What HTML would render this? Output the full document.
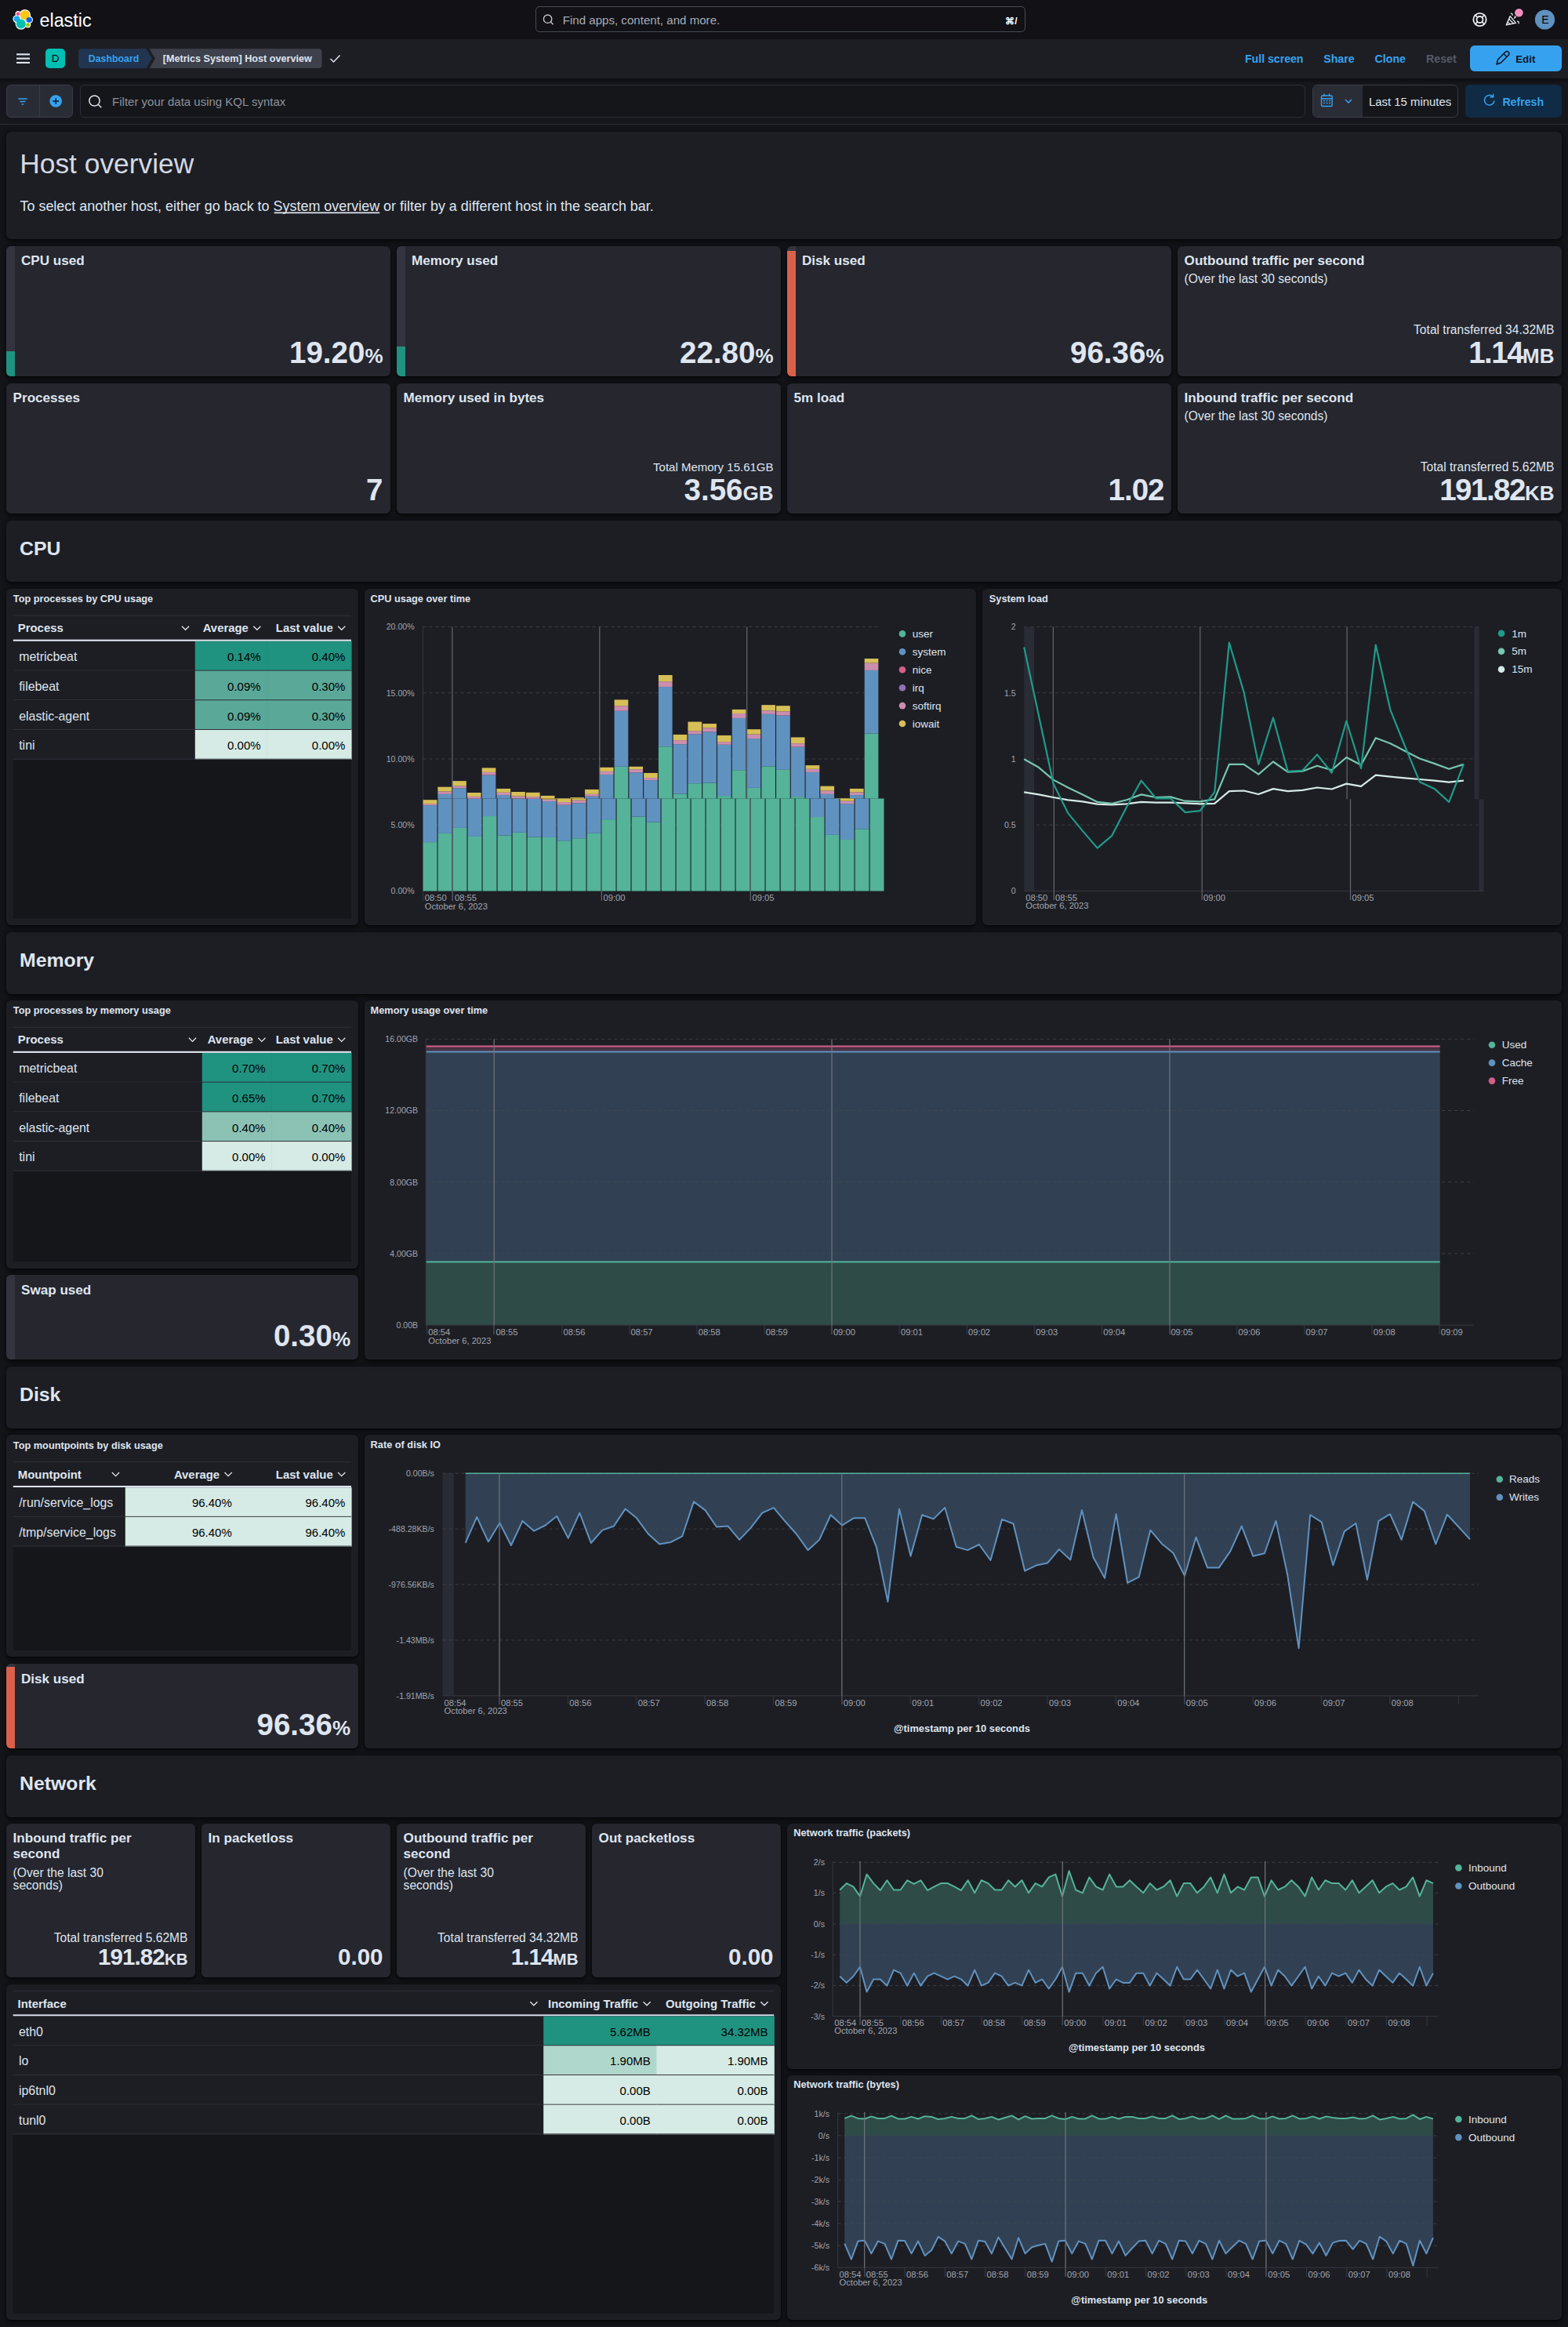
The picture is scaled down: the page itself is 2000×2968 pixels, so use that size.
<!DOCTYPE html><html><head><meta charset="utf-8"><title>[Metrics System] Host overview - Elastic</title><style>
html,body{margin:0;padding:0;background:#141519;}
body{width:2000px;height:2968px;position:relative;overflow:hidden;font-family:"Liberation Sans",sans-serif;}
.a{position:absolute;}
.p{position:absolute;border-radius:6px;box-shadow:0 0.7px 1.4px rgba(0,0,0,.45),0 1.9px 4px rgba(0,0,0,.35),0 4.5px 10px rgba(0,0,0,.3);}
svg{position:absolute;left:0;top:0;}

</style></head><body>
<div class="a" style="left:0.00px;top:0.00px;width:2000.00px;height:49.50px;background:#111116;"></div>
<div class="a" style="left:0.00px;top:49.50px;width:2000.00px;height:50.00px;background:#1d1e24;"></div>
<div class="a" style="left:0.00px;top:99.50px;width:2000.00px;height:7.00px;background:linear-gradient(#0c0d10,#16171c);"></div>
<div class="a" style="left:0.00px;top:106.50px;width:2000.00px;height:52.00px;background:#16171c;"></div>
<div class="a" style="left:0.00px;top:158.30px;width:2000.00px;height:1.00px;background:#2c2f37;"></div>
<div class="a" style="left:0.00px;top:159.30px;width:2000.00px;height:2808.70px;background:#141519;"></div>
<div class="a" style="left:683.4px;top:8.2px;width:624.5px;height:33px;box-sizing:border-box;border:1px solid #4a4c55;border-radius:5px;background:#111116;"></div>
<div class="a" style="left:58.1px;top:62.3px;width:25.2px;height:24.7px;background:#00bfb3;border-radius:5px;"></div>
<div class="a" style="left:1875.1px;top:58.1px;width:116.5px;height:32.5px;background:#36a2ef;border-radius:6px;"></div>
<div class="a" style="left:8.4px;top:108px;width:84.2px;height:41.6px;box-sizing:border-box;border:1px solid #3a3c45;border-radius:6px;background:#2a2c35;"></div>
<div class="a" style="left:50.20px;top:108.00px;width:1.00px;height:41.60px;background:#3a3c45;"></div>
<div class="a" style="left:101.6px;top:108px;width:1563.6px;height:41.6px;box-sizing:border-box;border:1px solid #2b2d35;border-radius:6px;background:#15161a;"></div>
<div class="a" style="left:1674.2px;top:108px;width:186.1px;height:41.6px;box-sizing:border-box;border:1px solid #3a3c45;border-radius:6px;background:#15161a;overflow:hidden;"><div style="position:absolute;left:0;top:0;width:63px;height:100%;background:#2b2d36;"></div></div>
<div class="a" style="left:1868.7px;top:108px;width:122.9px;height:41.6px;background:#0f2b45;border-radius:6px;"></div>
<div class="p" style="left:8.00px;top:167.80px;width:1984.00px;height:137.15px;background:#1d1e24;"></div>
<div class="p" style="left:8.00px;top:313.65px;width:490.00px;height:166.32px;background:#25262e;"></div>
<div class="a" style="left:8.00px;top:313.65px;width:11px;height:166.32px;background:#33343f;border-radius:6px 0 0 6px;overflow:hidden;"><div style="position:absolute;left:0;bottom:0;width:11px;height:31.93px;background:#209280;"></div></div>
<div class="p" style="left:506.00px;top:313.65px;width:490.00px;height:166.32px;background:#25262e;"></div>
<div class="a" style="left:506.00px;top:313.65px;width:11px;height:166.32px;background:#33343f;border-radius:6px 0 0 6px;overflow:hidden;"><div style="position:absolute;left:0;bottom:0;width:11px;height:37.92px;background:#209280;"></div></div>
<div class="p" style="left:1004.00px;top:313.65px;width:490.00px;height:166.32px;background:#25262e;"></div>
<div class="a" style="left:1004.00px;top:313.65px;width:11px;height:166.32px;background:#33343f;border-radius:6px 0 0 6px;overflow:hidden;"><div style="position:absolute;left:0;bottom:0;width:11px;height:160.27px;background:#d9614a;"></div></div>
<div class="p" style="left:1502.00px;top:313.65px;width:490.00px;height:166.32px;background:#25262e;"></div>
<div class="p" style="left:8.00px;top:488.67px;width:490.00px;height:166.32px;background:#25262e;"></div>
<div class="p" style="left:506.00px;top:488.67px;width:490.00px;height:166.32px;background:#25262e;"></div>
<div class="p" style="left:1004.00px;top:488.67px;width:490.00px;height:166.32px;background:#25262e;"></div>
<div class="p" style="left:1502.00px;top:488.67px;width:490.00px;height:166.32px;background:#25262e;"></div>
<div class="p" style="left:8.00px;top:663.69px;width:1984.00px;height:78.81px;background:#1d1e24;"></div>
<div class="p" style="left:8.00px;top:1188.75px;width:1984.00px;height:78.81px;background:#1d1e24;"></div>
<div class="p" style="left:8.00px;top:1742.98px;width:1984.00px;height:78.81px;background:#1d1e24;"></div>
<div class="p" style="left:8.00px;top:2238.87px;width:1984.00px;height:78.81px;background:#1d1e24;"></div>
<div class="p" style="left:8.00px;top:751.20px;width:448.50px;height:428.85px;background:#1d1e24;"></div>
<div class="p" style="left:8.00px;top:1276.26px;width:448.50px;height:341.34px;background:#1d1e24;"></div>
<div class="p" style="left:8.00px;top:1830.49px;width:448.50px;height:283.00px;background:#1d1e24;"></div>
<div class="p" style="left:8.00px;top:2530.57px;width:988.00px;height:428.85px;background:#1d1e24;"></div>
<div class="p" style="left:8.00px;top:1626.30px;width:448.50px;height:107.98px;background:#25262e;"></div>
<div class="a" style="left:8.00px;top:1626.30px;width:11px;height:107.98px;background:#33343f;border-radius:6px 0 0 6px;overflow:hidden;"><div style="position:absolute;left:0;bottom:0;width:11px;height:0.32px;background:#209280;"></div></div>
<div class="p" style="left:8.00px;top:2122.19px;width:448.50px;height:107.98px;background:#25262e;"></div>
<div class="a" style="left:8.00px;top:2122.19px;width:11px;height:107.98px;background:#33343f;border-radius:6px 0 0 6px;overflow:hidden;"><div style="position:absolute;left:0;bottom:0;width:11px;height:104.05px;background:#d9614a;"></div></div>
<div class="p" style="left:8.00px;top:2326.38px;width:241.00px;height:195.49px;background:#25262e;"></div>
<div class="p" style="left:257.00px;top:2326.38px;width:241.00px;height:195.49px;background:#25262e;"></div>
<div class="p" style="left:506.00px;top:2326.38px;width:241.00px;height:195.49px;background:#25262e;"></div>
<div class="p" style="left:755.00px;top:2326.38px;width:241.00px;height:195.49px;background:#25262e;"></div>
<div class="p" style="left:464.50px;top:751.20px;width:780.50px;height:428.85px;background:#1d1e24;"></div>
<div class="p" style="left:1253.00px;top:751.20px;width:739.00px;height:428.85px;background:#1d1e24;"></div>
<div class="p" style="left:464.50px;top:1276.26px;width:1527.50px;height:458.02px;background:#1d1e24;"></div>
<div class="p" style="left:464.50px;top:1830.49px;width:1527.50px;height:399.68px;background:#1d1e24;"></div>
<div class="p" style="left:1004.00px;top:2326.38px;width:988.00px;height:312.17px;background:#1d1e24;"></div>
<div class="p" style="left:1004.00px;top:2647.25px;width:988.00px;height:312.17px;background:#1d1e24;"></div>
<svg width="2000" height="2968" viewBox="0 0 2000 2968" font-family="Liberation Sans, sans-serif">
<g>
<circle cx="31.8" cy="19.2" r="7.3" fill="#fff"/><circle cx="23" cy="17.6" r="3.5" fill="#fff"/><circle cx="21.5" cy="24.1" r="5.2" fill="#fff"/>
<circle cx="37.2" cy="25.3" r="4.8" fill="#fff"/><circle cx="26.8" cy="30.6" r="7.2" fill="#fff"/><circle cx="35.6" cy="31.8" r="3.7" fill="#fff"/>
<circle cx="31.8" cy="19.2" r="6.1" fill="#fec514"/>
<rect x="20.8" y="15.4" width="4.4" height="4.4" rx="1.2" fill="#f04e98"/>
<ellipse cx="21.5" cy="24.1" rx="4.1" ry="3.8" fill="#1ba9f5"/>
<ellipse cx="37.2" cy="25.3" rx="3.7" ry="3.4" fill="#0b64dd"/>
<circle cx="26.8" cy="30.6" r="6" fill="#00bfb3"/>
<circle cx="35.6" cy="31.8" r="2.5" fill="#93c90e"/>
</g>
<text x="50.50" y="34.20" font-size="23.3" fill="#ffffff">elastic</text>
<circle cx="698.6" cy="24.2" r="5.2" fill="none" stroke="#c4c8d0" stroke-width="1.4"/><line x1="702.4" y1="28" x2="705.6" y2="31.2" stroke="#c4c8d0" stroke-width="1.4"/>
<text x="717.70" y="31.20" font-size="15.1" fill="#a7acb6">Find apps, content, and more.</text>
<text x="1297.50" y="30.50" font-size="12" font-weight="700" fill="#ffffff" text-anchor="end">⌘/</text>
<circle cx="1887.5" cy="25" r="8.2" fill="none" stroke="#e8ebf0" stroke-width="1.8"/><circle cx="1887.5" cy="25" r="4" fill="none" stroke="#e8ebf0" stroke-width="1.8"/><line x1="1881.7" y1="19.2" x2="1884.7" y2="22.2" stroke="#e8ebf0" stroke-width="1.8"/><line x1="1893.3" y1="19.2" x2="1890.3" y2="22.2" stroke="#e8ebf0" stroke-width="1.8"/><line x1="1881.7" y1="30.8" x2="1884.7" y2="27.8" stroke="#e8ebf0" stroke-width="1.8"/><line x1="1893.3" y1="30.8" x2="1890.3" y2="27.8" stroke="#e8ebf0" stroke-width="1.8"/>
<path d="M1921.3 31.8 L1926.2 20.6 L1933.4 29.4 Z" fill="none" stroke="#e8ebf0" stroke-width="1.4" stroke-linejoin="round"/><path d="M1925 24.5 L1930.6 30.2 M1923.2 28.3 L1926.6 31" fill="none" stroke="#e8ebf0" stroke-width="1.3"/><path d="M1926.8 17.2 q2.6 -0.4 2.4 2.6 M1935 27.2 q2.8 -0.2 2 3.2 M1931 23.6 l2.6 -2.2 M1931.6 21 l2 0.4" fill="none" stroke="#e8ebf0" stroke-width="1.3"/>
<circle cx="1937.4" cy="16.3" r="5.3" fill="#f38fbd"/>
<circle cx="1970.5" cy="25" r="12.6" fill="#6092c0"/>
<text x="1970.80" y="30.00" font-size="14" fill="#000000" text-anchor="middle">E</text>
<rect x="21.00" y="68.30" width="17.00" height="2.10" fill="#dfe5ef"/>
<rect x="21.00" y="73.60" width="17.00" height="2.10" fill="#dfe5ef"/>
<rect x="21.00" y="78.90" width="17.00" height="2.10" fill="#dfe5ef"/>
<text x="70.70" y="79.20" font-size="13.5" fill="#000000" text-anchor="middle">D</text>
<path d="M104.2 62.3 H186.5 L193.8 74.65 L186.5 87 H104.2 Q100.2 87 100.2 83 V66.3 Q100.2 62.3 104.2 62.3 Z" fill="#213551"/>
<path d="M190.6 62.3 H406.5 Q410.5 62.3 410.5 66.3 V83 Q410.5 87 406.5 87 H190.6 L197.9 74.65 Z" fill="#3e414c"/>
<text x="112.80" y="78.70" font-size="12.35" font-weight="700" fill="#36a2ef">Dashboard</text>
<text x="207.70" y="78.70" font-size="12.64" font-weight="700" fill="#dfe5ef">[Metrics System] Host overview</text>
<path d="M421.5 75 L425.5 79 L433.5 70.5" fill="none" stroke="#dfe5ef" stroke-width="1.5"/>
<text x="1588.00" y="80.00" font-size="14.1" font-weight="700" fill="#36a2ef">Full screen</text>
<text x="1688.20" y="80.00" font-size="14.2" font-weight="700" fill="#36a2ef">Share</text>
<text x="1753.60" y="80.00" font-size="14.2" font-weight="700" fill="#36a2ef">Clone</text>
<text x="1819.00" y="80.00" font-size="14.2" font-weight="700" fill="#555a66">Reset</text>
<path d="M1909 82 L1910.5 76 L1920 66.5 Q1922 64.5 1924 66.5 Q1926 68.5 1924 70.5 L1914.5 80 Z M1918 68.5 L1922 72.5" fill="none" stroke="#0b1628" stroke-width="1.6" stroke-linejoin="round"/>
<text x="1933.20" y="80.00" font-size="13.4" font-weight="700" fill="#0b1628">Edit</text>
<path d="M23.3 126 H34.7 M25.5 129.5 H32.5 M27.7 133 H30.3" stroke="#36a2ef" stroke-width="1.4"/>
<circle cx="71.2" cy="129" r="7.8" fill="#36a2ef"/><path d="M71.2 125 V133 M67.2 129 H75.2" stroke="#0b1628" stroke-width="1.3"/>
<circle cx="120.5" cy="128.5" r="6.6" fill="none" stroke="#dfe5ef" stroke-width="1.5"/><line x1="125.3" y1="133.3" x2="129.3" y2="137.3" stroke="#dfe5ef" stroke-width="1.5"/>
<text x="143.10" y="135.30" font-size="15" fill="#8d919b">Filter your data using KQL syntax</text>
<rect x="1685.5" y="122" width="13.6" height="13.5" rx="1.5" fill="none" stroke="#36a2ef" stroke-width="1.4"/><path d="M1685.5 125.8 H1699 M1689 119.5 V123 M1695.6 119.5 V123" stroke="#36a2ef" stroke-width="1.4"/><path d="M1688 128.5 h2 M1691.5 128.5 h2 M1695 128.5 h2 M1688 131.5 h2 M1691.5 131.5 h2 M1695 131.5 h2" stroke="#36a2ef" stroke-width="1.6"/>
<path d="M1716 127 L1720 131 L1724 127" fill="none" stroke="#36a2ef" stroke-width="1.5"/>
<text x="1746.00" y="135.20" font-size="14.9" fill="#dfe5ef">Last 15 minutes</text>
<path d="M1904.2 123.2 A6.3 6.3 0 1 0 1906 128.6" fill="none" stroke="#36a2ef" stroke-width="1.5"/><path d="M1904.6 119.8 V123.8 H1900.6" fill="none" stroke="#36a2ef" stroke-width="1.5"/>
<text x="1916.40" y="135.30" font-size="14.15" font-weight="700" fill="#36a2ef">Refresh</text>
<text x="25.30" y="221.00" font-size="35.35" fill="#d3d9e3">Host overview</text>
<text x="25.50" y="268.90" font-size="17.95" fill="#dfe5ef">To select another host, either go back to System overview or filter by a different host in the search bar.</text>
<line x1="349.6" y1="271.4" x2="484.2" y2="271.4" stroke="#dfe5ef" stroke-width="1.6"/>
<text x="27.00" y="338.25" font-size="17.1" font-weight="700" fill="#dfe5ef">CPU used</text>
<text x="488.50" y="462.97" text-anchor="end" font-weight="700" fill="#dfe5ef"><tspan font-size="38.5" letter-spacing="0">19.20</tspan><tspan font-size="26">%</tspan></text>
<text x="525.00" y="338.25" font-size="17.1" font-weight="700" fill="#dfe5ef">Memory used</text>
<text x="986.50" y="462.97" text-anchor="end" font-weight="700" fill="#dfe5ef"><tspan font-size="38.5" letter-spacing="0">22.80</tspan><tspan font-size="26">%</tspan></text>
<text x="1023.00" y="338.25" font-size="17.1" font-weight="700" fill="#dfe5ef">Disk used</text>
<text x="1484.50" y="462.97" text-anchor="end" font-weight="700" fill="#dfe5ef"><tspan font-size="38.5" letter-spacing="0">96.36</tspan><tspan font-size="26">%</tspan></text>
<text x="1510.60" y="338.25" font-size="17.1" font-weight="700" fill="#dfe5ef">Outbound traffic per second</text>
<text x="1510.60" y="360.85" font-size="15.6" fill="#dfe5ef">(Over the last 30 seconds)</text>
<text x="1982.50" y="425.85" font-size="15.6" fill="#dfe5ef" text-anchor="end">Total transferred 34.32MB</text>
<text x="1982.50" y="462.97" text-anchor="end" font-weight="700" fill="#dfe5ef"><tspan font-size="38.5" letter-spacing="-1.5">1.14</tspan><tspan font-size="26">MB</tspan></text>
<text x="16.60" y="513.27" font-size="17.1" font-weight="700" fill="#dfe5ef">Processes</text>
<text x="488.50" y="637.99" text-anchor="end" font-weight="700" fill="#dfe5ef"><tspan font-size="38.5" letter-spacing="0">7</tspan><tspan font-size="26"></tspan></text>
<text x="514.60" y="513.27" font-size="17.1" font-weight="700" fill="#dfe5ef">Memory used in bytes</text>
<text x="986.50" y="600.87" font-size="15.0" fill="#dfe5ef" text-anchor="end">Total Memory 15.61GB</text>
<text x="986.50" y="637.99" text-anchor="end" font-weight="700" fill="#dfe5ef"><tspan font-size="38.5" letter-spacing="0">3.56</tspan><tspan font-size="26">GB</tspan></text>
<text x="1012.60" y="513.27" font-size="17.1" font-weight="700" fill="#dfe5ef">5m load</text>
<text x="1484.50" y="637.99" text-anchor="end" font-weight="700" fill="#dfe5ef"><tspan font-size="38.5" letter-spacing="-1">1.02</tspan><tspan font-size="26"></tspan></text>
<text x="1510.60" y="513.27" font-size="17.1" font-weight="700" fill="#dfe5ef">Inbound traffic per second</text>
<text x="1510.60" y="535.87" font-size="15.6" fill="#dfe5ef">(Over the last 30 seconds)</text>
<text x="1982.50" y="600.87" font-size="15.6" fill="#dfe5ef" text-anchor="end">Total transferred 5.62MB</text>
<text x="1982.50" y="637.99" text-anchor="end" font-weight="700" fill="#dfe5ef"><tspan font-size="38.5" letter-spacing="-1.5">191.82</tspan><tspan font-size="26">KB</tspan></text>
<text x="25.00" y="707.99" font-size="24.8" font-weight="700" fill="#dfe5ef">CPU</text>
<text x="25.00" y="1233.05" font-size="24.8" font-weight="700" fill="#dfe5ef">Memory</text>
<text x="25.00" y="1787.28" font-size="24.8" font-weight="700" fill="#dfe5ef">Disk</text>
<text x="25.00" y="2283.17" font-size="24.8" font-weight="700" fill="#dfe5ef">Network</text>
<text x="16.80" y="768.40" font-size="12.75" font-weight="700" fill="#dfe5ef">Top processes by CPU usage</text>
<rect x="16.80" y="784.60" width="431.20" height="386.95" fill="#15161a"/>
<rect x="16.20" y="784.60" width="432.40" height="32.10" fill="#1d1e24"/>
<line x1="16.80" y1="785.10" x2="448.00" y2="785.10" stroke="#30323b" stroke-width="1"/>
<text x="22.80" y="806.40" font-size="14.9" font-weight="700" fill="#dfe5ef">Process</text>
<path d="M231.90 798.70 L236.50 803.30 L241.10 798.70" fill="none" stroke="#dfe5ef" stroke-width="1.3"/>
<text x="316.90" y="806.40" font-size="14.9" font-weight="700" fill="#dfe5ef" text-anchor="end">Average</text>
<path d="M323.30 798.70 L327.90 803.30 L332.50 798.70" fill="none" stroke="#dfe5ef" stroke-width="1.3"/>
<text x="424.70" y="806.40" font-size="14.9" font-weight="700" fill="#dfe5ef" text-anchor="end">Last value</text>
<path d="M431.10 798.70 L435.70 803.30 L440.30 798.70" fill="none" stroke="#dfe5ef" stroke-width="1.3"/>
<rect x="16.80" y="815.70" width="431.20" height="2.20" fill="#dfe5ef"/>
<rect x="16.20" y="817.90" width="432.40" height="37.70" fill="#1d1e24"/>
<text x="24.20" y="843.10" font-size="15.9" fill="#dfe5ef">metricbeat</text>
<rect x="248.80" y="817.90" width="92.00" height="37.70" fill="#209280"/>
<text x="332.60" y="843.10" font-size="15.0" fill="#000000" text-anchor="end">0.14%</text>
<rect x="340.20" y="817.90" width="108.40" height="37.70" fill="#209280"/>
<text x="440.40" y="843.10" font-size="15.0" fill="#000000" text-anchor="end">0.40%</text>
<line x1="16.80" y1="855.10" x2="448.00" y2="855.10" stroke="#30323b" stroke-width="1"/>
<rect x="16.20" y="855.60" width="432.40" height="37.70" fill="#1d1e24"/>
<text x="24.20" y="880.80" font-size="15.9" fill="#dfe5ef">filebeat</text>
<rect x="248.80" y="855.60" width="92.00" height="37.70" fill="#5aa898"/>
<text x="332.60" y="880.80" font-size="15.0" fill="#000000" text-anchor="end">0.09%</text>
<rect x="340.20" y="855.60" width="108.40" height="37.70" fill="#5aa898"/>
<text x="440.40" y="880.80" font-size="15.0" fill="#000000" text-anchor="end">0.30%</text>
<line x1="16.80" y1="892.80" x2="448.00" y2="892.80" stroke="#30323b" stroke-width="1"/>
<rect x="16.20" y="893.30" width="432.40" height="37.70" fill="#1d1e24"/>
<text x="24.20" y="918.50" font-size="15.9" fill="#dfe5ef">elastic-agent</text>
<rect x="248.80" y="893.30" width="92.00" height="37.70" fill="#5aa898"/>
<text x="332.60" y="918.50" font-size="15.0" fill="#000000" text-anchor="end">0.09%</text>
<rect x="340.20" y="893.30" width="108.40" height="37.70" fill="#5aa898"/>
<text x="440.40" y="918.50" font-size="15.0" fill="#000000" text-anchor="end">0.30%</text>
<line x1="16.80" y1="930.50" x2="448.00" y2="930.50" stroke="#30323b" stroke-width="1"/>
<rect x="16.20" y="931.00" width="432.40" height="37.70" fill="#1d1e24"/>
<text x="24.20" y="956.20" font-size="15.9" fill="#dfe5ef">tini</text>
<rect x="248.80" y="931.00" width="92.00" height="37.70" fill="#d6ebe5"/>
<text x="332.60" y="956.20" font-size="15.0" fill="#000000" text-anchor="end">0.00%</text>
<rect x="340.20" y="931.00" width="108.40" height="37.70" fill="#d6ebe5"/>
<text x="440.40" y="956.20" font-size="15.0" fill="#000000" text-anchor="end">0.00%</text>
<line x1="16.80" y1="968.20" x2="448.00" y2="968.20" stroke="#30323b" stroke-width="1"/>
<text x="16.80" y="1293.46" font-size="12.75" font-weight="700" fill="#dfe5ef">Top processes by memory usage</text>
<rect x="16.80" y="1309.66" width="431.20" height="299.44" fill="#15161a"/>
<rect x="16.20" y="1309.66" width="432.40" height="32.10" fill="#1d1e24"/>
<line x1="16.80" y1="1310.16" x2="448.00" y2="1310.16" stroke="#30323b" stroke-width="1"/>
<text x="22.80" y="1331.46" font-size="14.9" font-weight="700" fill="#dfe5ef">Process</text>
<path d="M240.90 1323.76 L245.50 1328.36 L250.10 1323.76" fill="none" stroke="#dfe5ef" stroke-width="1.3"/>
<text x="322.90" y="1331.46" font-size="14.9" font-weight="700" fill="#dfe5ef" text-anchor="end">Average</text>
<path d="M329.30 1323.76 L333.90 1328.36 L338.50 1323.76" fill="none" stroke="#dfe5ef" stroke-width="1.3"/>
<text x="424.70" y="1331.46" font-size="14.9" font-weight="700" fill="#dfe5ef" text-anchor="end">Last value</text>
<path d="M431.10 1323.76 L435.70 1328.36 L440.30 1323.76" fill="none" stroke="#dfe5ef" stroke-width="1.3"/>
<rect x="16.80" y="1340.76" width="431.20" height="2.20" fill="#dfe5ef"/>
<rect x="16.20" y="1342.96" width="432.40" height="37.70" fill="#1d1e24"/>
<text x="24.20" y="1368.16" font-size="15.9" fill="#dfe5ef">metricbeat</text>
<rect x="257.80" y="1342.96" width="89.00" height="37.70" fill="#209280"/>
<text x="338.60" y="1368.16" font-size="15.0" fill="#000000" text-anchor="end">0.70%</text>
<rect x="346.20" y="1342.96" width="102.40" height="37.70" fill="#209280"/>
<text x="440.40" y="1368.16" font-size="15.0" fill="#000000" text-anchor="end">0.70%</text>
<line x1="16.80" y1="1380.16" x2="448.00" y2="1380.16" stroke="#30323b" stroke-width="1"/>
<rect x="16.20" y="1380.66" width="432.40" height="37.70" fill="#1d1e24"/>
<text x="24.20" y="1405.86" font-size="15.9" fill="#dfe5ef">filebeat</text>
<rect x="257.80" y="1380.66" width="89.00" height="37.70" fill="#209280"/>
<text x="338.60" y="1405.86" font-size="15.0" fill="#000000" text-anchor="end">0.65%</text>
<rect x="346.20" y="1380.66" width="102.40" height="37.70" fill="#209280"/>
<text x="440.40" y="1405.86" font-size="15.0" fill="#000000" text-anchor="end">0.70%</text>
<line x1="16.80" y1="1417.86" x2="448.00" y2="1417.86" stroke="#30323b" stroke-width="1"/>
<rect x="16.20" y="1418.36" width="432.40" height="37.70" fill="#1d1e24"/>
<text x="24.20" y="1443.56" font-size="15.9" fill="#dfe5ef">elastic-agent</text>
<rect x="257.80" y="1418.36" width="89.00" height="37.70" fill="#8bc2b4"/>
<text x="338.60" y="1443.56" font-size="15.0" fill="#000000" text-anchor="end">0.40%</text>
<rect x="346.20" y="1418.36" width="102.40" height="37.70" fill="#8bc2b4"/>
<text x="440.40" y="1443.56" font-size="15.0" fill="#000000" text-anchor="end">0.40%</text>
<line x1="16.80" y1="1455.56" x2="448.00" y2="1455.56" stroke="#30323b" stroke-width="1"/>
<rect x="16.20" y="1456.06" width="432.40" height="37.70" fill="#1d1e24"/>
<text x="24.20" y="1481.26" font-size="15.9" fill="#dfe5ef">tini</text>
<rect x="257.80" y="1456.06" width="89.00" height="37.70" fill="#d6ebe5"/>
<text x="338.60" y="1481.26" font-size="15.0" fill="#000000" text-anchor="end">0.00%</text>
<rect x="346.20" y="1456.06" width="102.40" height="37.70" fill="#d6ebe5"/>
<text x="440.40" y="1481.26" font-size="15.0" fill="#000000" text-anchor="end">0.00%</text>
<line x1="16.80" y1="1493.26" x2="448.00" y2="1493.26" stroke="#30323b" stroke-width="1"/>
<text x="16.80" y="1847.69" font-size="12.75" font-weight="700" fill="#dfe5ef">Top mountpoints by disk usage</text>
<rect x="16.80" y="1863.89" width="431.20" height="241.10" fill="#15161a"/>
<rect x="16.20" y="1863.89" width="432.40" height="32.10" fill="#1d1e24"/>
<line x1="16.80" y1="1864.39" x2="448.00" y2="1864.39" stroke="#30323b" stroke-width="1"/>
<text x="22.80" y="1885.69" font-size="14.9" font-weight="700" fill="#dfe5ef">Mountpoint</text>
<path d="M142.90 1877.99 L147.50 1882.59 L152.10 1877.99" fill="none" stroke="#dfe5ef" stroke-width="1.3"/>
<text x="280.10" y="1885.69" font-size="14.9" font-weight="700" fill="#dfe5ef" text-anchor="end">Average</text>
<path d="M286.50 1877.99 L291.10 1882.59 L295.70 1877.99" fill="none" stroke="#dfe5ef" stroke-width="1.3"/>
<text x="424.70" y="1885.69" font-size="14.9" font-weight="700" fill="#dfe5ef" text-anchor="end">Last value</text>
<path d="M431.10 1877.99 L435.70 1882.59 L440.30 1877.99" fill="none" stroke="#dfe5ef" stroke-width="1.3"/>
<rect x="16.80" y="1894.99" width="431.20" height="2.20" fill="#dfe5ef"/>
<rect x="16.20" y="1897.19" width="432.40" height="37.70" fill="#1d1e24"/>
<text x="24.20" y="1922.39" font-size="15.9" fill="#dfe5ef">/run/service_logs</text>
<rect x="159.80" y="1897.19" width="144.20" height="37.70" fill="#d6ebe5"/>
<text x="295.80" y="1922.39" font-size="15.0" fill="#000000" text-anchor="end">96.40%</text>
<rect x="303.40" y="1897.19" width="145.20" height="37.70" fill="#d6ebe5"/>
<text x="440.40" y="1922.39" font-size="15.0" fill="#000000" text-anchor="end">96.40%</text>
<line x1="16.80" y1="1934.39" x2="448.00" y2="1934.39" stroke="#30323b" stroke-width="1"/>
<rect x="16.20" y="1934.89" width="432.40" height="37.70" fill="#1d1e24"/>
<text x="24.20" y="1960.09" font-size="15.9" fill="#dfe5ef">/tmp/service_logs</text>
<rect x="159.80" y="1934.89" width="144.20" height="37.70" fill="#d6ebe5"/>
<text x="295.80" y="1960.09" font-size="15.0" fill="#000000" text-anchor="end">96.40%</text>
<rect x="303.40" y="1934.89" width="145.20" height="37.70" fill="#d6ebe5"/>
<text x="440.40" y="1960.09" font-size="15.0" fill="#000000" text-anchor="end">96.40%</text>
<line x1="16.80" y1="1972.09" x2="448.00" y2="1972.09" stroke="#30323b" stroke-width="1"/>
<rect x="16.60" y="2539.07" width="970.60" height="411.85" fill="#15161a"/>
<rect x="16.00" y="2539.07" width="971.80" height="31.30" fill="#1d1e24"/>
<line x1="16.60" y1="2539.57" x2="987.20" y2="2539.57" stroke="#30323b" stroke-width="1"/>
<text x="22.60" y="2560.87" font-size="14.9" font-weight="700" fill="#dfe5ef">Interface</text>
<path d="M676.30 2553.17 L680.90 2557.77 L685.50 2553.17" fill="none" stroke="#dfe5ef" stroke-width="1.3"/>
<text x="814.10" y="2560.87" font-size="14.9" font-weight="700" fill="#dfe5ef" text-anchor="end">Incoming Traffic</text>
<path d="M820.50 2553.17 L825.10 2557.77 L829.70 2553.17" fill="none" stroke="#dfe5ef" stroke-width="1.3"/>
<text x="963.90" y="2560.87" font-size="14.9" font-weight="700" fill="#dfe5ef" text-anchor="end">Outgoing Traffic</text>
<path d="M970.30 2553.17 L974.90 2557.77 L979.50 2553.17" fill="none" stroke="#dfe5ef" stroke-width="1.3"/>
<rect x="16.60" y="2569.37" width="970.60" height="2.20" fill="#dfe5ef"/>
<rect x="16.00" y="2571.57" width="971.80" height="37.70" fill="#1d1e24"/>
<text x="24.00" y="2596.77" font-size="15.9" fill="#dfe5ef">eth0</text>
<rect x="693.20" y="2571.57" width="144.80" height="37.70" fill="#209280"/>
<text x="829.80" y="2596.77" font-size="15.0" fill="#000000" text-anchor="end">5.62MB</text>
<rect x="837.40" y="2571.57" width="150.40" height="37.70" fill="#209280"/>
<text x="979.60" y="2596.77" font-size="15.0" fill="#000000" text-anchor="end">34.32MB</text>
<line x1="16.60" y1="2608.77" x2="987.20" y2="2608.77" stroke="#30323b" stroke-width="1"/>
<rect x="16.00" y="2609.27" width="971.80" height="37.70" fill="#1d1e24"/>
<text x="24.00" y="2634.47" font-size="15.9" fill="#dfe5ef">lo</text>
<rect x="693.20" y="2609.27" width="144.80" height="37.70" fill="#b0d7cc"/>
<text x="829.80" y="2634.47" font-size="15.0" fill="#000000" text-anchor="end">1.90MB</text>
<rect x="837.40" y="2609.27" width="150.40" height="37.70" fill="#d6ebe5"/>
<text x="979.60" y="2634.47" font-size="15.0" fill="#000000" text-anchor="end">1.90MB</text>
<line x1="16.60" y1="2646.47" x2="987.20" y2="2646.47" stroke="#30323b" stroke-width="1"/>
<rect x="16.00" y="2646.97" width="971.80" height="37.70" fill="#1d1e24"/>
<text x="24.00" y="2672.17" font-size="15.9" fill="#dfe5ef">ip6tnl0</text>
<rect x="693.20" y="2646.97" width="144.80" height="37.70" fill="#d6ebe5"/>
<text x="829.80" y="2672.17" font-size="15.0" fill="#000000" text-anchor="end">0.00B</text>
<rect x="837.40" y="2646.97" width="150.40" height="37.70" fill="#d6ebe5"/>
<text x="979.60" y="2672.17" font-size="15.0" fill="#000000" text-anchor="end">0.00B</text>
<line x1="16.60" y1="2684.17" x2="987.20" y2="2684.17" stroke="#30323b" stroke-width="1"/>
<rect x="16.00" y="2684.67" width="971.80" height="37.70" fill="#1d1e24"/>
<text x="24.00" y="2709.87" font-size="15.9" fill="#dfe5ef">tunl0</text>
<rect x="693.20" y="2684.67" width="144.80" height="37.70" fill="#d6ebe5"/>
<text x="829.80" y="2709.87" font-size="15.0" fill="#000000" text-anchor="end">0.00B</text>
<rect x="837.40" y="2684.67" width="150.40" height="37.70" fill="#d6ebe5"/>
<text x="979.60" y="2709.87" font-size="15.0" fill="#000000" text-anchor="end">0.00B</text>
<line x1="16.60" y1="2721.87" x2="987.20" y2="2721.87" stroke="#30323b" stroke-width="1"/>
<text x="27.00" y="1650.90" font-size="17.1" font-weight="700" fill="#dfe5ef">Swap used</text>
<text x="447.00" y="1717.28" text-anchor="end" font-weight="700" fill="#dfe5ef"><tspan font-size="38.5" letter-spacing="0">0.30</tspan><tspan font-size="26">%</tspan></text>
<text x="27.00" y="2146.79" font-size="17.1" font-weight="700" fill="#dfe5ef">Disk used</text>
<text x="447.00" y="2213.17" text-anchor="end" font-weight="700" fill="#dfe5ef"><tspan font-size="38.5" letter-spacing="0">96.36</tspan><tspan font-size="26">%</tspan></text>
<text x="16.60" y="2350.48" font-size="17.1" font-weight="700" fill="#dfe5ef">Inbound traffic per</text>
<text x="16.60" y="2370.18" font-size="17.1" font-weight="700" fill="#dfe5ef">second</text>
<text x="16.60" y="2393.58" font-size="15.6" fill="#dfe5ef">(Over the last 30</text>
<text x="16.60" y="2410.18" font-size="15.6" fill="#dfe5ef">seconds)</text>
<text x="239.50" y="2476.58" font-size="15.6" fill="#dfe5ef" text-anchor="end">Total transferred 5.62MB</text>
<text x="239.50" y="2506.18" text-anchor="end" font-weight="700" fill="#dfe5ef"><tspan font-size="29.5" letter-spacing="-0.8999999999999999">191.82</tspan><tspan font-size="20.5">KB</tspan></text>
<text x="265.60" y="2350.48" font-size="17.1" font-weight="700" fill="#dfe5ef">In packetloss</text>
<text x="488.50" y="2506.18" text-anchor="end" font-weight="700" fill="#dfe5ef"><tspan font-size="29.5" letter-spacing="0.0">0.00</tspan><tspan font-size="20.5"></tspan></text>
<text x="514.60" y="2350.48" font-size="17.1" font-weight="700" fill="#dfe5ef">Outbound traffic per</text>
<text x="514.60" y="2370.18" font-size="17.1" font-weight="700" fill="#dfe5ef">second</text>
<text x="514.60" y="2393.58" font-size="15.6" fill="#dfe5ef">(Over the last 30</text>
<text x="514.60" y="2410.18" font-size="15.6" fill="#dfe5ef">seconds)</text>
<text x="737.50" y="2476.58" font-size="15.6" fill="#dfe5ef" text-anchor="end">Total transferred 34.32MB</text>
<text x="737.50" y="2506.18" text-anchor="end" font-weight="700" fill="#dfe5ef"><tspan font-size="29.5" letter-spacing="-0.8999999999999999">1.14</tspan><tspan font-size="20.5">MB</tspan></text>
<text x="763.60" y="2350.48" font-size="17.1" font-weight="700" fill="#dfe5ef">Out packetloss</text>
<text x="986.50" y="2506.18" text-anchor="end" font-weight="700" fill="#dfe5ef"><tspan font-size="29.5" letter-spacing="0.0">0.00</tspan><tspan font-size="20.5"></tspan></text>
<text x="472.60" y="768.20" font-size="12.75" font-weight="700" fill="#dfe5ef">CPU usage over time</text>
<line x1="539.60" y1="799.50" x2="1121.00" y2="799.50" stroke="#454852" stroke-opacity="0.75" stroke-width="1" stroke-dasharray="4 4"/>
<line x1="539.60" y1="883.75" x2="1121.00" y2="883.75" stroke="#454852" stroke-opacity="0.75" stroke-width="1" stroke-dasharray="4 4"/>
<line x1="539.60" y1="968.00" x2="1121.00" y2="968.00" stroke="#454852" stroke-opacity="0.75" stroke-width="1" stroke-dasharray="4 4"/>
<line x1="539.60" y1="1052.25" x2="1121.00" y2="1052.25" stroke="#454852" stroke-opacity="0.75" stroke-width="1" stroke-dasharray="4 4"/>
<text x="528.60" y="803.30" font-size="10.6" fill="#a0a5ae" text-anchor="end">20.00%</text>
<text x="528.60" y="887.55" font-size="10.6" fill="#a0a5ae" text-anchor="end">15.00%</text>
<text x="528.60" y="971.80" font-size="10.6" fill="#a0a5ae" text-anchor="end">10.00%</text>
<text x="528.60" y="1056.05" font-size="10.6" fill="#a0a5ae" text-anchor="end">5.00%</text>
<text x="528.60" y="1140.30" font-size="10.6" fill="#a0a5ae" text-anchor="end">0.00%</text>
<line x1="539.60" y1="799.00" x2="539.60" y2="1136.50" stroke="#363943" stroke-width="1"/>
<defs><clipPath id="cpuTop"><rect x="530" y="780" width="620" height="238.60"/></clipPath><clipPath id="cpuBot"><rect x="530" y="1018.60" width="620" height="121.40"/></clipPath><clipPath id="slTop"><rect x="1300" y="780" width="600" height="239.30"/></clipPath><clipPath id="slBot"><rect x="1300" y="1019.30" width="600" height="120.70"/></clipPath></defs>
<g clip-path="url(#cpuTop)">
<rect x="539.60" y="1074.08" width="17.67" height="62.42" fill="#54b399"/>
<rect x="539.60" y="1027.14" width="17.67" height="46.94" fill="#6092c0"/>
<rect x="539.60" y="1025.10" width="17.67" height="2.04" fill="#ca8eae"/>
<rect x="539.60" y="1020.20" width="17.67" height="4.90" fill="#d6bf57"/>
<rect x="558.37" y="1062.86" width="17.67" height="73.64" fill="#54b399"/>
<rect x="558.37" y="1012.86" width="17.67" height="50.00" fill="#6092c0"/>
<rect x="558.37" y="1009.39" width="17.67" height="3.47" fill="#ca8eae"/>
<rect x="558.37" y="1003.67" width="17.67" height="5.71" fill="#d6bf57"/>
<rect x="577.14" y="1055.92" width="17.67" height="80.58" fill="#54b399"/>
<rect x="577.14" y="1005.31" width="17.67" height="50.61" fill="#6092c0"/>
<rect x="577.14" y="1002.24" width="17.67" height="3.06" fill="#ca8eae"/>
<rect x="577.14" y="996.12" width="17.67" height="6.12" fill="#d6bf57"/>
<rect x="595.91" y="1066.94" width="17.67" height="69.56" fill="#54b399"/>
<rect x="595.91" y="1018.98" width="17.67" height="47.96" fill="#6092c0"/>
<rect x="595.91" y="1015.92" width="17.67" height="3.06" fill="#ca8eae"/>
<rect x="595.91" y="1011.02" width="17.67" height="4.90" fill="#d6bf57"/>
<rect x="614.68" y="1041.02" width="17.67" height="95.48" fill="#54b399"/>
<rect x="614.68" y="988.57" width="17.67" height="52.45" fill="#6092c0"/>
<rect x="614.68" y="984.90" width="17.67" height="3.67" fill="#ca8eae"/>
<rect x="614.68" y="979.39" width="17.67" height="5.51" fill="#d6bf57"/>
<rect x="633.45" y="1065.51" width="17.67" height="70.99" fill="#54b399"/>
<rect x="633.45" y="1014.08" width="17.67" height="51.43" fill="#6092c0"/>
<rect x="633.45" y="1010.82" width="17.67" height="3.27" fill="#ca8eae"/>
<rect x="633.45" y="1005.92" width="17.67" height="4.90" fill="#d6bf57"/>
<rect x="652.22" y="1061.84" width="17.67" height="74.66" fill="#54b399"/>
<rect x="652.22" y="1018.57" width="17.67" height="43.27" fill="#6092c0"/>
<rect x="652.22" y="1015.51" width="17.67" height="3.06" fill="#ca8eae"/>
<rect x="652.22" y="1010.00" width="17.67" height="5.51" fill="#d6bf57"/>
<rect x="670.99" y="1067.55" width="17.67" height="68.95" fill="#54b399"/>
<rect x="670.99" y="1018.98" width="17.67" height="48.57" fill="#6092c0"/>
<rect x="670.99" y="1016.12" width="17.67" height="2.86" fill="#ca8eae"/>
<rect x="670.99" y="1010.82" width="17.67" height="5.31" fill="#d6bf57"/>
<rect x="689.76" y="1067.96" width="17.67" height="68.54" fill="#54b399"/>
<rect x="689.76" y="1022.04" width="17.67" height="45.92" fill="#6092c0"/>
<rect x="689.76" y="1019.59" width="17.67" height="2.45" fill="#ca8eae"/>
<rect x="689.76" y="1014.90" width="17.67" height="4.69" fill="#d6bf57"/>
<rect x="708.53" y="1072.24" width="17.67" height="64.26" fill="#54b399"/>
<rect x="708.53" y="1026.73" width="17.67" height="45.51" fill="#6092c0"/>
<rect x="708.53" y="1023.06" width="17.67" height="3.67" fill="#ca8eae"/>
<rect x="708.53" y="1018.16" width="17.67" height="4.90" fill="#d6bf57"/>
<rect x="727.30" y="1069.18" width="17.67" height="67.32" fill="#54b399"/>
<rect x="727.30" y="1024.29" width="17.67" height="44.90" fill="#6092c0"/>
<rect x="727.30" y="1020.61" width="17.67" height="3.67" fill="#ca8eae"/>
<rect x="727.30" y="1017.14" width="17.67" height="3.47" fill="#d6bf57"/>
<rect x="746.07" y="1062.86" width="17.67" height="73.64" fill="#54b399"/>
<rect x="746.07" y="1015.71" width="17.67" height="47.14" fill="#6092c0"/>
<rect x="746.07" y="1012.86" width="17.67" height="2.86" fill="#ca8eae"/>
<rect x="746.07" y="1006.94" width="17.67" height="5.92" fill="#d6bf57"/>
<rect x="764.84" y="1045.10" width="17.67" height="91.40" fill="#54b399"/>
<rect x="764.84" y="987.96" width="17.67" height="57.14" fill="#6092c0"/>
<rect x="764.84" y="983.88" width="17.67" height="4.08" fill="#ca8eae"/>
<rect x="764.84" y="978.78" width="17.67" height="5.10" fill="#d6bf57"/>
<rect x="783.61" y="977.76" width="17.67" height="158.74" fill="#54b399"/>
<rect x="783.61" y="906.73" width="17.67" height="71.02" fill="#6092c0"/>
<rect x="783.61" y="900.20" width="17.67" height="6.53" fill="#ca8eae"/>
<rect x="783.61" y="892.45" width="17.67" height="7.76" fill="#d6bf57"/>
<rect x="802.38" y="1041.63" width="17.67" height="94.87" fill="#54b399"/>
<rect x="802.38" y="985.31" width="17.67" height="56.33" fill="#6092c0"/>
<rect x="802.38" y="981.22" width="17.67" height="4.08" fill="#ca8eae"/>
<rect x="802.38" y="977.76" width="17.67" height="3.47" fill="#d6bf57"/>
<rect x="821.15" y="1048.57" width="17.67" height="87.93" fill="#54b399"/>
<rect x="821.15" y="995.10" width="17.67" height="53.47" fill="#6092c0"/>
<rect x="821.15" y="992.04" width="17.67" height="3.06" fill="#ca8eae"/>
<rect x="821.15" y="985.92" width="17.67" height="6.12" fill="#d6bf57"/>
<rect x="839.92" y="952.24" width="17.67" height="184.26" fill="#54b399"/>
<rect x="839.92" y="876.12" width="17.67" height="76.12" fill="#6092c0"/>
<rect x="839.92" y="869.18" width="17.67" height="6.94" fill="#ca8eae"/>
<rect x="839.92" y="861.02" width="17.67" height="8.16" fill="#d6bf57"/>
<rect x="858.69" y="1012.45" width="17.67" height="124.05" fill="#54b399"/>
<rect x="858.69" y="949.18" width="17.67" height="63.27" fill="#6092c0"/>
<rect x="858.69" y="944.08" width="17.67" height="5.10" fill="#ca8eae"/>
<rect x="858.69" y="936.94" width="17.67" height="7.14" fill="#d6bf57"/>
<rect x="877.46" y="999.18" width="17.67" height="137.32" fill="#54b399"/>
<rect x="877.46" y="936.33" width="17.67" height="62.86" fill="#6092c0"/>
<rect x="877.46" y="932.24" width="17.67" height="4.08" fill="#ca8eae"/>
<rect x="877.46" y="920.61" width="17.67" height="11.63" fill="#d6bf57"/>
<rect x="896.23" y="998.57" width="17.67" height="137.93" fill="#54b399"/>
<rect x="896.23" y="933.47" width="17.67" height="65.10" fill="#6092c0"/>
<rect x="896.23" y="928.37" width="17.67" height="5.10" fill="#ca8eae"/>
<rect x="896.23" y="923.06" width="17.67" height="5.31" fill="#d6bf57"/>
<rect x="915.00" y="1015.10" width="17.67" height="121.40" fill="#54b399"/>
<rect x="915.00" y="949.80" width="17.67" height="65.31" fill="#6092c0"/>
<rect x="915.00" y="946.12" width="17.67" height="3.67" fill="#ca8eae"/>
<rect x="915.00" y="937.96" width="17.67" height="8.16" fill="#d6bf57"/>
<rect x="933.77" y="982.24" width="17.67" height="154.26" fill="#54b399"/>
<rect x="933.77" y="915.92" width="17.67" height="66.33" fill="#6092c0"/>
<rect x="933.77" y="910.00" width="17.67" height="5.92" fill="#ca8eae"/>
<rect x="933.77" y="904.90" width="17.67" height="5.10" fill="#d6bf57"/>
<rect x="952.54" y="1004.90" width="17.67" height="131.60" fill="#54b399"/>
<rect x="952.54" y="942.04" width="17.67" height="62.86" fill="#6092c0"/>
<rect x="952.54" y="936.53" width="17.67" height="5.51" fill="#ca8eae"/>
<rect x="952.54" y="930.20" width="17.67" height="6.33" fill="#d6bf57"/>
<rect x="971.31" y="977.35" width="17.67" height="159.15" fill="#54b399"/>
<rect x="971.31" y="910.82" width="17.67" height="66.53" fill="#6092c0"/>
<rect x="971.31" y="906.33" width="17.67" height="4.49" fill="#ca8eae"/>
<rect x="971.31" y="899.18" width="17.67" height="7.14" fill="#d6bf57"/>
<rect x="990.08" y="981.84" width="17.67" height="154.66" fill="#54b399"/>
<rect x="990.08" y="912.45" width="17.67" height="69.39" fill="#6092c0"/>
<rect x="990.08" y="907.35" width="17.67" height="5.10" fill="#ca8eae"/>
<rect x="990.08" y="900.20" width="17.67" height="7.14" fill="#d6bf57"/>
<rect x="1008.85" y="1016.12" width="17.67" height="120.38" fill="#54b399"/>
<rect x="1008.85" y="952.65" width="17.67" height="63.47" fill="#6092c0"/>
<rect x="1008.85" y="948.16" width="17.67" height="4.49" fill="#ca8eae"/>
<rect x="1008.85" y="940.41" width="17.67" height="7.76" fill="#d6bf57"/>
<rect x="1027.62" y="1042.04" width="17.67" height="94.46" fill="#54b399"/>
<rect x="1027.62" y="984.90" width="17.67" height="57.14" fill="#6092c0"/>
<rect x="1027.62" y="980.82" width="17.67" height="4.08" fill="#ca8eae"/>
<rect x="1027.62" y="976.12" width="17.67" height="4.69" fill="#d6bf57"/>
<rect x="1046.39" y="1064.90" width="17.67" height="71.60" fill="#54b399"/>
<rect x="1046.39" y="1012.86" width="17.67" height="52.04" fill="#6092c0"/>
<rect x="1046.39" y="1008.37" width="17.67" height="4.49" fill="#ca8eae"/>
<rect x="1046.39" y="1002.65" width="17.67" height="5.71" fill="#d6bf57"/>
<rect x="1065.16" y="1071.02" width="17.67" height="65.48" fill="#54b399"/>
<rect x="1065.16" y="1025.10" width="17.67" height="45.92" fill="#6092c0"/>
<rect x="1065.16" y="1021.63" width="17.67" height="3.47" fill="#ca8eae"/>
<rect x="1065.16" y="1017.96" width="17.67" height="3.67" fill="#d6bf57"/>
<rect x="1083.93" y="1057.35" width="17.67" height="79.15" fill="#54b399"/>
<rect x="1083.93" y="1014.08" width="17.67" height="43.27" fill="#6092c0"/>
<rect x="1083.93" y="1010.41" width="17.67" height="3.67" fill="#ca8eae"/>
<rect x="1083.93" y="1005.92" width="17.67" height="4.49" fill="#d6bf57"/>
<rect x="1102.70" y="935.51" width="17.67" height="200.99" fill="#54b399"/>
<rect x="1102.70" y="854.90" width="17.67" height="80.61" fill="#6092c0"/>
<rect x="1102.70" y="845.51" width="17.67" height="9.39" fill="#ca8eae"/>
<rect x="1102.70" y="840.00" width="17.67" height="5.51" fill="#d6bf57"/>
</g>
<g clip-path="url(#cpuBot)">
<rect x="539.60" y="1074.08" width="17.90" height="62.42" fill="#54b399"/>
<rect x="539.60" y="1027.14" width="17.90" height="46.94" fill="#6092c0"/>
<rect x="539.60" y="1025.10" width="17.90" height="2.04" fill="#ca8eae"/>
<rect x="539.60" y="1020.20" width="17.90" height="4.90" fill="#d6bf57"/>
<rect x="558.60" y="1062.86" width="17.90" height="73.64" fill="#54b399"/>
<rect x="558.60" y="1012.86" width="17.90" height="50.00" fill="#6092c0"/>
<rect x="558.60" y="1009.39" width="17.90" height="3.47" fill="#ca8eae"/>
<rect x="558.60" y="1003.67" width="17.90" height="5.71" fill="#d6bf57"/>
<rect x="577.60" y="1055.92" width="17.90" height="80.58" fill="#54b399"/>
<rect x="577.60" y="1005.31" width="17.90" height="50.61" fill="#6092c0"/>
<rect x="577.60" y="1002.24" width="17.90" height="3.06" fill="#ca8eae"/>
<rect x="577.60" y="996.12" width="17.90" height="6.12" fill="#d6bf57"/>
<rect x="596.60" y="1066.94" width="17.90" height="69.56" fill="#54b399"/>
<rect x="596.60" y="1018.98" width="17.90" height="47.96" fill="#6092c0"/>
<rect x="596.60" y="1015.92" width="17.90" height="3.06" fill="#ca8eae"/>
<rect x="596.60" y="1011.02" width="17.90" height="4.90" fill="#d6bf57"/>
<rect x="615.60" y="1041.02" width="17.90" height="95.48" fill="#54b399"/>
<rect x="615.60" y="988.57" width="17.90" height="52.45" fill="#6092c0"/>
<rect x="615.60" y="984.90" width="17.90" height="3.67" fill="#ca8eae"/>
<rect x="615.60" y="979.39" width="17.90" height="5.51" fill="#d6bf57"/>
<rect x="634.60" y="1065.51" width="17.90" height="70.99" fill="#54b399"/>
<rect x="634.60" y="1014.08" width="17.90" height="51.43" fill="#6092c0"/>
<rect x="634.60" y="1010.82" width="17.90" height="3.27" fill="#ca8eae"/>
<rect x="634.60" y="1005.92" width="17.90" height="4.90" fill="#d6bf57"/>
<rect x="653.60" y="1061.84" width="17.90" height="74.66" fill="#54b399"/>
<rect x="653.60" y="1018.57" width="17.90" height="43.27" fill="#6092c0"/>
<rect x="653.60" y="1015.51" width="17.90" height="3.06" fill="#ca8eae"/>
<rect x="653.60" y="1010.00" width="17.90" height="5.51" fill="#d6bf57"/>
<rect x="672.60" y="1067.55" width="17.90" height="68.95" fill="#54b399"/>
<rect x="672.60" y="1018.98" width="17.90" height="48.57" fill="#6092c0"/>
<rect x="672.60" y="1016.12" width="17.90" height="2.86" fill="#ca8eae"/>
<rect x="672.60" y="1010.82" width="17.90" height="5.31" fill="#d6bf57"/>
<rect x="691.60" y="1067.96" width="17.90" height="68.54" fill="#54b399"/>
<rect x="691.60" y="1022.04" width="17.90" height="45.92" fill="#6092c0"/>
<rect x="691.60" y="1019.59" width="17.90" height="2.45" fill="#ca8eae"/>
<rect x="691.60" y="1014.90" width="17.90" height="4.69" fill="#d6bf57"/>
<rect x="710.60" y="1072.24" width="17.90" height="64.26" fill="#54b399"/>
<rect x="710.60" y="1026.73" width="17.90" height="45.51" fill="#6092c0"/>
<rect x="710.60" y="1023.06" width="17.90" height="3.67" fill="#ca8eae"/>
<rect x="710.60" y="1018.16" width="17.90" height="4.90" fill="#d6bf57"/>
<rect x="729.60" y="1069.18" width="17.90" height="67.32" fill="#54b399"/>
<rect x="729.60" y="1024.29" width="17.90" height="44.90" fill="#6092c0"/>
<rect x="729.60" y="1020.61" width="17.90" height="3.67" fill="#ca8eae"/>
<rect x="729.60" y="1017.14" width="17.90" height="3.47" fill="#d6bf57"/>
<rect x="748.60" y="1062.86" width="17.90" height="73.64" fill="#54b399"/>
<rect x="748.60" y="1015.71" width="17.90" height="47.14" fill="#6092c0"/>
<rect x="748.60" y="1012.86" width="17.90" height="2.86" fill="#ca8eae"/>
<rect x="748.60" y="1006.94" width="17.90" height="5.92" fill="#d6bf57"/>
<rect x="767.60" y="1045.10" width="17.90" height="91.40" fill="#54b399"/>
<rect x="767.60" y="987.96" width="17.90" height="57.14" fill="#6092c0"/>
<rect x="767.60" y="983.88" width="17.90" height="4.08" fill="#ca8eae"/>
<rect x="767.60" y="978.78" width="17.90" height="5.10" fill="#d6bf57"/>
<rect x="786.60" y="977.76" width="17.90" height="158.74" fill="#54b399"/>
<rect x="786.60" y="906.73" width="17.90" height="71.02" fill="#6092c0"/>
<rect x="786.60" y="900.20" width="17.90" height="6.53" fill="#ca8eae"/>
<rect x="786.60" y="892.45" width="17.90" height="7.76" fill="#d6bf57"/>
<rect x="805.60" y="1041.63" width="17.90" height="94.87" fill="#54b399"/>
<rect x="805.60" y="985.31" width="17.90" height="56.33" fill="#6092c0"/>
<rect x="805.60" y="981.22" width="17.90" height="4.08" fill="#ca8eae"/>
<rect x="805.60" y="977.76" width="17.90" height="3.47" fill="#d6bf57"/>
<rect x="824.60" y="1048.57" width="17.90" height="87.93" fill="#54b399"/>
<rect x="824.60" y="995.10" width="17.90" height="53.47" fill="#6092c0"/>
<rect x="824.60" y="992.04" width="17.90" height="3.06" fill="#ca8eae"/>
<rect x="824.60" y="985.92" width="17.90" height="6.12" fill="#d6bf57"/>
<rect x="843.60" y="952.24" width="17.90" height="184.26" fill="#54b399"/>
<rect x="843.60" y="876.12" width="17.90" height="76.12" fill="#6092c0"/>
<rect x="843.60" y="869.18" width="17.90" height="6.94" fill="#ca8eae"/>
<rect x="843.60" y="861.02" width="17.90" height="8.16" fill="#d6bf57"/>
<rect x="862.60" y="1012.45" width="17.90" height="124.05" fill="#54b399"/>
<rect x="862.60" y="949.18" width="17.90" height="63.27" fill="#6092c0"/>
<rect x="862.60" y="944.08" width="17.90" height="5.10" fill="#ca8eae"/>
<rect x="862.60" y="936.94" width="17.90" height="7.14" fill="#d6bf57"/>
<rect x="881.60" y="999.18" width="17.90" height="137.32" fill="#54b399"/>
<rect x="881.60" y="936.33" width="17.90" height="62.86" fill="#6092c0"/>
<rect x="881.60" y="932.24" width="17.90" height="4.08" fill="#ca8eae"/>
<rect x="881.60" y="920.61" width="17.90" height="11.63" fill="#d6bf57"/>
<rect x="900.60" y="998.57" width="17.90" height="137.93" fill="#54b399"/>
<rect x="900.60" y="933.47" width="17.90" height="65.10" fill="#6092c0"/>
<rect x="900.60" y="928.37" width="17.90" height="5.10" fill="#ca8eae"/>
<rect x="900.60" y="923.06" width="17.90" height="5.31" fill="#d6bf57"/>
<rect x="919.60" y="1015.10" width="17.90" height="121.40" fill="#54b399"/>
<rect x="919.60" y="949.80" width="17.90" height="65.31" fill="#6092c0"/>
<rect x="919.60" y="946.12" width="17.90" height="3.67" fill="#ca8eae"/>
<rect x="919.60" y="937.96" width="17.90" height="8.16" fill="#d6bf57"/>
<rect x="938.60" y="982.24" width="17.90" height="154.26" fill="#54b399"/>
<rect x="938.60" y="915.92" width="17.90" height="66.33" fill="#6092c0"/>
<rect x="938.60" y="910.00" width="17.90" height="5.92" fill="#ca8eae"/>
<rect x="938.60" y="904.90" width="17.90" height="5.10" fill="#d6bf57"/>
<rect x="957.60" y="1004.90" width="17.90" height="131.60" fill="#54b399"/>
<rect x="957.60" y="942.04" width="17.90" height="62.86" fill="#6092c0"/>
<rect x="957.60" y="936.53" width="17.90" height="5.51" fill="#ca8eae"/>
<rect x="957.60" y="930.20" width="17.90" height="6.33" fill="#d6bf57"/>
<rect x="976.60" y="977.35" width="17.90" height="159.15" fill="#54b399"/>
<rect x="976.60" y="910.82" width="17.90" height="66.53" fill="#6092c0"/>
<rect x="976.60" y="906.33" width="17.90" height="4.49" fill="#ca8eae"/>
<rect x="976.60" y="899.18" width="17.90" height="7.14" fill="#d6bf57"/>
<rect x="995.60" y="981.84" width="17.90" height="154.66" fill="#54b399"/>
<rect x="995.60" y="912.45" width="17.90" height="69.39" fill="#6092c0"/>
<rect x="995.60" y="907.35" width="17.90" height="5.10" fill="#ca8eae"/>
<rect x="995.60" y="900.20" width="17.90" height="7.14" fill="#d6bf57"/>
<rect x="1014.60" y="1016.12" width="17.90" height="120.38" fill="#54b399"/>
<rect x="1014.60" y="952.65" width="17.90" height="63.47" fill="#6092c0"/>
<rect x="1014.60" y="948.16" width="17.90" height="4.49" fill="#ca8eae"/>
<rect x="1014.60" y="940.41" width="17.90" height="7.76" fill="#d6bf57"/>
<rect x="1033.60" y="1042.04" width="17.90" height="94.46" fill="#54b399"/>
<rect x="1033.60" y="984.90" width="17.90" height="57.14" fill="#6092c0"/>
<rect x="1033.60" y="980.82" width="17.90" height="4.08" fill="#ca8eae"/>
<rect x="1033.60" y="976.12" width="17.90" height="4.69" fill="#d6bf57"/>
<rect x="1052.60" y="1064.90" width="17.90" height="71.60" fill="#54b399"/>
<rect x="1052.60" y="1012.86" width="17.90" height="52.04" fill="#6092c0"/>
<rect x="1052.60" y="1008.37" width="17.90" height="4.49" fill="#ca8eae"/>
<rect x="1052.60" y="1002.65" width="17.90" height="5.71" fill="#d6bf57"/>
<rect x="1071.60" y="1071.02" width="17.90" height="65.48" fill="#54b399"/>
<rect x="1071.60" y="1025.10" width="17.90" height="45.92" fill="#6092c0"/>
<rect x="1071.60" y="1021.63" width="17.90" height="3.47" fill="#ca8eae"/>
<rect x="1071.60" y="1017.96" width="17.90" height="3.67" fill="#d6bf57"/>
<rect x="1090.60" y="1057.35" width="17.90" height="79.15" fill="#54b399"/>
<rect x="1090.60" y="1014.08" width="17.90" height="43.27" fill="#6092c0"/>
<rect x="1090.60" y="1010.41" width="17.90" height="3.67" fill="#ca8eae"/>
<rect x="1090.60" y="1005.92" width="17.90" height="4.49" fill="#d6bf57"/>
<rect x="1109.60" y="935.51" width="17.90" height="200.99" fill="#54b399"/>
<rect x="1109.60" y="854.90" width="17.90" height="80.61" fill="#6092c0"/>
<rect x="1109.60" y="845.51" width="17.90" height="9.39" fill="#ca8eae"/>
<rect x="1109.60" y="840.00" width="17.90" height="5.51" fill="#d6bf57"/>
</g>
<line x1="576.90" y1="799.40" x2="576.90" y2="1018.60" stroke="#63666e" stroke-width="1.2"/>
<line x1="577.10" y1="1018.60" x2="577.10" y2="1149.00" stroke="#63666e" stroke-width="1.2"/>
<line x1="764.80" y1="799.40" x2="764.80" y2="1018.60" stroke="#63666e" stroke-width="1.2"/>
<line x1="767.30" y1="1018.60" x2="767.30" y2="1149.00" stroke="#63666e" stroke-width="1.2"/>
<line x1="952.70" y1="799.40" x2="952.70" y2="1018.60" stroke="#63666e" stroke-width="1.2"/>
<line x1="957.20" y1="1018.60" x2="957.20" y2="1149.00" stroke="#63666e" stroke-width="1.2"/>
<line x1="539.60" y1="1136.50" x2="539.60" y2="1149.00" stroke="#363943" stroke-width="1"/>
<text x="541.80" y="1149.00" font-size="11.2" fill="#a0a5ae">08:50</text>
<text x="580.00" y="1149.00" font-size="11.2" fill="#a0a5ae">08:55</text>
<text x="769.50" y="1149.00" font-size="11.2" fill="#a0a5ae">09:00</text>
<text x="959.50" y="1149.00" font-size="11.2" fill="#a0a5ae">09:05</text>
<text x="541.80" y="1159.80" font-size="11.2" fill="#a0a5ae">October 6, 2023</text>
<circle cx="1151.00" cy="808.40" r="4.3" fill="#54b399"/>
<text x="1163.70" y="813.00" font-size="13.5" fill="#dfe5ef">user</text>
<circle cx="1151.00" cy="831.33" r="4.3" fill="#6092c0"/>
<text x="1163.70" y="835.93" font-size="13.5" fill="#dfe5ef">system</text>
<circle cx="1151.00" cy="854.26" r="4.3" fill="#d36086"/>
<text x="1163.70" y="858.86" font-size="13.5" fill="#dfe5ef">nice</text>
<circle cx="1151.00" cy="877.19" r="4.3" fill="#9170b8"/>
<text x="1163.70" y="881.79" font-size="13.5" fill="#dfe5ef">irq</text>
<circle cx="1151.00" cy="900.12" r="4.3" fill="#ca8eae"/>
<text x="1163.70" y="904.72" font-size="13.5" fill="#dfe5ef">softirq</text>
<circle cx="1151.00" cy="923.05" r="4.3" fill="#d6bf57"/>
<text x="1163.70" y="927.65" font-size="13.5" fill="#dfe5ef">iowait</text>
<text x="1261.80" y="768.20" font-size="12.75" font-weight="700" fill="#dfe5ef">System load</text>
<line x1="1306.20" y1="799.50" x2="1886.60" y2="799.50" stroke="#454852" stroke-opacity="0.75" stroke-width="1" stroke-dasharray="4 4"/>
<line x1="1306.20" y1="883.73" x2="1886.60" y2="883.73" stroke="#454852" stroke-opacity="0.75" stroke-width="1" stroke-dasharray="4 4"/>
<line x1="1306.20" y1="967.95" x2="1886.60" y2="967.95" stroke="#454852" stroke-opacity="0.75" stroke-width="1" stroke-dasharray="4 4"/>
<line x1="1306.20" y1="1052.18" x2="1886.60" y2="1052.18" stroke="#454852" stroke-opacity="0.75" stroke-width="1" stroke-dasharray="4 4"/>
<text x="1295.70" y="803.30" font-size="10.6" fill="#a0a5ae" text-anchor="end">2</text>
<text x="1295.70" y="887.53" font-size="10.6" fill="#a0a5ae" text-anchor="end">1.5</text>
<text x="1295.70" y="971.75" font-size="10.6" fill="#a0a5ae" text-anchor="end">1</text>
<text x="1295.70" y="1055.98" font-size="10.6" fill="#a0a5ae" text-anchor="end">0.5</text>
<text x="1295.70" y="1140.20" font-size="10.6" fill="#a0a5ae" text-anchor="end">0</text>
<rect x="1306.20" y="799.50" width="12.90" height="336.90" fill="#2a2c35"/>
<g clip-path="url(#slTop)">
<rect x="1880.60" y="799.50" width="6.00" height="336.90" fill="#2a2c35"/>
</g>
<g clip-path="url(#slBot)">
<rect x="1886.60" y="799.50" width="6.00" height="336.90" fill="#2a2c35"/>
</g>
<line x1="1306.20" y1="1136.40" x2="1892.50" y2="1136.40" stroke="#363943" stroke-width="1"/>
<line x1="1343.40" y1="799.50" x2="1343.40" y2="1019.30" stroke="#63666e" stroke-width="1.2"/>
<line x1="1344.40" y1="1019.30" x2="1344.40" y2="1148.00" stroke="#63666e" stroke-width="1.2"/>
<line x1="1530.80" y1="799.50" x2="1530.80" y2="1019.30" stroke="#63666e" stroke-width="1.2"/>
<line x1="1533.20" y1="1019.30" x2="1533.20" y2="1148.00" stroke="#63666e" stroke-width="1.2"/>
<line x1="1718.10" y1="799.50" x2="1718.10" y2="1019.30" stroke="#63666e" stroke-width="1.2"/>
<line x1="1722.50" y1="1019.30" x2="1722.50" y2="1148.00" stroke="#63666e" stroke-width="1.2"/>
<polyline points="1306.20,1010.40 1324.89,1013.40 1343.58,1017.00 1362.27,1020.30 1380.96,1022.30 1399.65,1025.70 1418.34,1026.30 1437.03,1025.30 1455.72,1022.90 1474.41,1023.70 1493.10,1023.70 1511.79,1024.30 1530.48,1025.30 1549.17,1024.90 1567.86,1009.10 1586.55,1008.50 1605.24,1013.00 1623.93,1006.10 1642.62,1009.10 1661.31,1007.90 1680.00,1004.50 1698.69,1006.50 1717.38,999.60 1736.07,1002.90 1754.76,988.70 1773.45,990.70 1792.14,992.30 1810.83,994.00 1829.52,995.60 1848.21,997.60 1866.90,995.60" fill="none" stroke="#d6ebe5" stroke-width="2.2" stroke-linejoin="round"/>
<polyline points="1306.20,968.30 1324.89,978.80 1343.58,994.60 1362.27,1004.50 1380.96,1013.40 1399.65,1022.90 1418.34,1024.90 1437.03,1020.30 1455.72,1013.40 1474.41,1017.00 1493.10,1016.40 1511.79,1021.70 1530.48,1022.30 1549.17,1019.30 1567.86,974.90 1586.55,974.90 1605.24,987.70 1623.93,971.50 1642.62,984.70 1661.31,983.70 1680.00,976.80 1698.69,982.20 1717.38,966.00 1736.07,975.80 1754.76,941.20 1773.45,948.20 1792.14,958.00 1810.83,967.50 1829.52,973.90 1848.21,980.80 1866.90,974.90" fill="none" stroke="#78c6b0" stroke-width="2.2" stroke-linejoin="round"/>
<polyline points="1306.20,825.60 1324.89,912.60 1343.58,999.60 1362.27,1037.10 1380.96,1059.90 1399.65,1081.60 1418.34,1065.80 1437.03,1029.20 1455.72,995.60 1474.41,1018.30 1493.10,1018.30 1511.79,1036.10 1530.48,1034.20 1549.17,1010.40 1567.86,819.70 1586.55,882.90 1605.24,974.90 1623.93,915.50 1642.62,983.80 1661.31,982.80 1680.00,962.40 1698.69,985.70 1717.38,919.50 1736.07,980.20 1754.76,822.60 1773.45,905.70 1792.14,952.00 1810.83,997.20 1829.52,1005.90 1848.21,1022.90 1866.90,974.90" fill="none" stroke="#209b87" stroke-width="2.2" stroke-linejoin="round"/>
<text x="1308.30" y="1148.50" font-size="11.2" fill="#a0a5ae">08:50</text>
<text x="1346.00" y="1148.50" font-size="11.2" fill="#a0a5ae">08:55</text>
<text x="1535.00" y="1148.50" font-size="11.2" fill="#a0a5ae">09:00</text>
<text x="1724.50" y="1148.50" font-size="11.2" fill="#a0a5ae">09:05</text>
<text x="1308.30" y="1159.30" font-size="11.2" fill="#a0a5ae">October 6, 2023</text>
<circle cx="1915.00" cy="807.90" r="4.3" fill="#209b87"/>
<text x="1928.30" y="812.50" font-size="13.5" fill="#dfe5ef">1m</text>
<circle cx="1915.00" cy="830.80" r="4.3" fill="#78c6b0"/>
<text x="1928.30" y="835.40" font-size="13.5" fill="#dfe5ef">5m</text>
<circle cx="1915.00" cy="853.70" r="4.3" fill="#d6ebe5"/>
<text x="1928.30" y="858.30" font-size="13.5" fill="#dfe5ef">15m</text>
<text x="472.60" y="1292.70" font-size="12.75" font-weight="700" fill="#dfe5ef">Memory usage over time</text>
<text x="533.20" y="1329.10" font-size="10.6" fill="#a0a5ae" text-anchor="end">16.00GB</text>
<text x="533.20" y="1420.30" font-size="10.6" fill="#a0a5ae" text-anchor="end">12.00GB</text>
<text x="533.20" y="1511.50" font-size="10.6" fill="#a0a5ae" text-anchor="end">8.00GB</text>
<text x="533.20" y="1602.70" font-size="10.6" fill="#a0a5ae" text-anchor="end">4.00GB</text>
<text x="533.20" y="1693.90" font-size="10.6" fill="#a0a5ae" text-anchor="end">0.00B</text>
<rect x="543.20" y="1334.50" width="1293.50" height="7.10" fill="#4a3142"/>
<rect x="543.20" y="1341.60" width="1293.50" height="267.90" fill="#314153"/>
<rect x="543.20" y="1609.50" width="1293.50" height="80.60" fill="#2e4b47"/>
<line x1="543.20" y1="1325.30" x2="1880.00" y2="1325.30" stroke="#454852" stroke-opacity="0.75" stroke-width="1" stroke-dasharray="4 4"/>
<line x1="543.20" y1="1416.50" x2="1880.00" y2="1416.50" stroke="#454852" stroke-opacity="0.75" stroke-width="1" stroke-dasharray="4 4"/>
<line x1="543.20" y1="1507.70" x2="1880.00" y2="1507.70" stroke="#454852" stroke-opacity="0.75" stroke-width="1" stroke-dasharray="4 4"/>
<line x1="543.20" y1="1598.90" x2="1880.00" y2="1598.90" stroke="#454852" stroke-opacity="0.75" stroke-width="1" stroke-dasharray="4 4"/>
<line x1="543.20" y1="1334.50" x2="1836.70" y2="1334.50" stroke="#d36086" stroke-width="2"/>
<line x1="543.20" y1="1341.60" x2="1836.70" y2="1341.60" stroke="#6092c0" stroke-width="2"/>
<line x1="543.20" y1="1609.50" x2="1836.70" y2="1609.50" stroke="#54b399" stroke-width="2"/>
<line x1="543.20" y1="1325.30" x2="543.20" y2="1690.10" stroke="#363943" stroke-width="1"/>
<line x1="543.20" y1="1690.10" x2="1880.00" y2="1690.10" stroke="#363943" stroke-width="1"/>
<line x1="630.20" y1="1325.30" x2="630.20" y2="1702.00" stroke="#70747c" stroke-width="1.2"/>
<line x1="1061.00" y1="1325.30" x2="1061.00" y2="1702.00" stroke="#70747c" stroke-width="1.2"/>
<line x1="1492.00" y1="1325.30" x2="1492.00" y2="1702.00" stroke="#70747c" stroke-width="1.2"/>
<line x1="544.50" y1="1690.10" x2="544.50" y2="1702.00" stroke="#363943" stroke-width="1"/>
<text x="546.30" y="1703.00" font-size="11.2" fill="#a0a5ae">08:54</text>
<line x1="630.60" y1="1690.10" x2="630.60" y2="1702.00" stroke="#363943" stroke-width="1"/>
<text x="632.40" y="1703.00" font-size="11.2" fill="#a0a5ae">08:55</text>
<line x1="716.70" y1="1690.10" x2="716.70" y2="1702.00" stroke="#363943" stroke-width="1"/>
<text x="718.50" y="1703.00" font-size="11.2" fill="#a0a5ae">08:56</text>
<line x1="802.80" y1="1690.10" x2="802.80" y2="1702.00" stroke="#363943" stroke-width="1"/>
<text x="804.60" y="1703.00" font-size="11.2" fill="#a0a5ae">08:57</text>
<line x1="888.90" y1="1690.10" x2="888.90" y2="1702.00" stroke="#363943" stroke-width="1"/>
<text x="890.70" y="1703.00" font-size="11.2" fill="#a0a5ae">08:58</text>
<line x1="975.00" y1="1690.10" x2="975.00" y2="1702.00" stroke="#363943" stroke-width="1"/>
<text x="976.80" y="1703.00" font-size="11.2" fill="#a0a5ae">08:59</text>
<line x1="1061.10" y1="1690.10" x2="1061.10" y2="1702.00" stroke="#363943" stroke-width="1"/>
<text x="1062.90" y="1703.00" font-size="11.2" fill="#a0a5ae">09:00</text>
<line x1="1147.20" y1="1690.10" x2="1147.20" y2="1702.00" stroke="#363943" stroke-width="1"/>
<text x="1149.00" y="1703.00" font-size="11.2" fill="#a0a5ae">09:01</text>
<line x1="1233.30" y1="1690.10" x2="1233.30" y2="1702.00" stroke="#363943" stroke-width="1"/>
<text x="1235.10" y="1703.00" font-size="11.2" fill="#a0a5ae">09:02</text>
<line x1="1319.40" y1="1690.10" x2="1319.40" y2="1702.00" stroke="#363943" stroke-width="1"/>
<text x="1321.20" y="1703.00" font-size="11.2" fill="#a0a5ae">09:03</text>
<line x1="1405.50" y1="1690.10" x2="1405.50" y2="1702.00" stroke="#363943" stroke-width="1"/>
<text x="1407.30" y="1703.00" font-size="11.2" fill="#a0a5ae">09:04</text>
<line x1="1491.60" y1="1690.10" x2="1491.60" y2="1702.00" stroke="#363943" stroke-width="1"/>
<text x="1493.40" y="1703.00" font-size="11.2" fill="#a0a5ae">09:05</text>
<line x1="1577.70" y1="1690.10" x2="1577.70" y2="1702.00" stroke="#363943" stroke-width="1"/>
<text x="1579.50" y="1703.00" font-size="11.2" fill="#a0a5ae">09:06</text>
<line x1="1663.80" y1="1690.10" x2="1663.80" y2="1702.00" stroke="#363943" stroke-width="1"/>
<text x="1665.60" y="1703.00" font-size="11.2" fill="#a0a5ae">09:07</text>
<line x1="1749.90" y1="1690.10" x2="1749.90" y2="1702.00" stroke="#363943" stroke-width="1"/>
<text x="1751.70" y="1703.00" font-size="11.2" fill="#a0a5ae">09:08</text>
<line x1="1836.00" y1="1690.10" x2="1836.00" y2="1702.00" stroke="#363943" stroke-width="1"/>
<text x="1837.80" y="1703.00" font-size="11.2" fill="#a0a5ae">09:09</text>
<text x="546.30" y="1714.30" font-size="11.2" fill="#a0a5ae">October 6, 2023</text>
<circle cx="1903.00" cy="1332.70" r="4.3" fill="#54b399"/>
<text x="1915.70" y="1337.30" font-size="13.5" fill="#dfe5ef">Used</text>
<circle cx="1903.00" cy="1355.65" r="4.3" fill="#6092c0"/>
<text x="1915.70" y="1360.25" font-size="13.5" fill="#dfe5ef">Cache</text>
<circle cx="1903.00" cy="1378.60" r="4.3" fill="#d36086"/>
<text x="1915.70" y="1383.20" font-size="13.5" fill="#dfe5ef">Free</text>
<text x="472.60" y="1846.70" font-size="12.75" font-weight="700" fill="#dfe5ef">Rate of disk IO</text>
<text x="553.90" y="1883.00" font-size="10.6" fill="#a0a5ae" text-anchor="end">0.00B/s</text>
<text x="553.90" y="1953.90" font-size="10.6" fill="#a0a5ae" text-anchor="end">-488.28KB/s</text>
<text x="553.90" y="2024.80" font-size="10.6" fill="#a0a5ae" text-anchor="end">-976.56KB/s</text>
<text x="553.90" y="2095.70" font-size="10.6" fill="#a0a5ae" text-anchor="end">-1.43MB/s</text>
<text x="553.90" y="2166.70" font-size="10.6" fill="#a0a5ae" text-anchor="end">-1.91MB/s</text>
<rect x="564.60" y="1879.20" width="14.30" height="283.70" fill="#2a2c35"/>
<polygon points="593.70,1879.2 593.70,1967.96 608.26,1934.80 622.82,1966.43 637.38,1942.45 651.94,1971.02 666.50,1939.90 681.06,1952.65 695.62,1945.51 710.18,1933.78 724.74,1961.84 739.30,1929.69 753.86,1967.96 768.42,1951.63 782.98,1946.53 797.54,1924.59 812.10,1936.33 826.66,1956.22 841.22,1969.49 855.78,1966.94 870.34,1959.29 884.90,1915.41 899.46,1926.12 914.03,1947.55 928.59,1946.53 943.15,1963.88 957.71,1948.57 972.27,1929.69 986.83,1923.06 1001.39,1940.41 1015.95,1956.73 1030.51,1977.14 1045.07,1963.88 1059.63,1932.24 1074.19,1945.51 1088.75,1936.33 1103.31,1936.33 1117.87,1973.06 1132.43,2042.96 1146.99,1924.59 1161.55,1984.80 1176.11,1932.24 1190.67,1937.35 1205.23,1923.06 1219.79,1973.06 1234.35,1977.14 1248.91,1970.00 1263.47,1989.90 1278.03,1937.86 1292.59,1943.47 1307.15,2003.67 1321.71,1996.53 1336.27,1993.47 1350.83,1976.12 1365.39,1989.39 1379.95,1926.12 1394.51,1986.33 1409.07,2012.86 1423.63,1931.22 1438.19,2018.98 1452.75,2011.33 1467.31,1951.63 1481.87,1968.98 1496.43,1980.71 1510.99,2009.80 1525.55,1960.82 1540.11,1999.59 1554.68,1999.59 1569.24,1978.67 1583.80,1946.53 1598.36,1984.80 1612.92,1981.22 1627.48,1939.90 1642.04,2007.76 1656.60,2102.14 1671.16,1932.24 1685.72,1941.43 1700.28,1996.53 1714.84,1953.16 1729.40,1942.96 1743.96,2014.90 1758.52,1939.90 1773.08,1931.22 1787.64,1963.88 1802.20,1915.41 1816.76,1927.14 1831.32,1969.49 1845.88,1931.73 1860.44,1947.55 1875.00,1963.37 1875.00,1879.2" fill="#314153"/>
<line x1="564.60" y1="1879.20" x2="1886.00" y2="1879.20" stroke="#454852" stroke-opacity="0.75" stroke-width="1" stroke-dasharray="4 4"/>
<line x1="564.60" y1="1950.10" x2="1886.00" y2="1950.10" stroke="#454852" stroke-opacity="0.75" stroke-width="1" stroke-dasharray="4 4"/>
<line x1="564.60" y1="2021.00" x2="1886.00" y2="2021.00" stroke="#454852" stroke-opacity="0.75" stroke-width="1" stroke-dasharray="4 4"/>
<line x1="564.60" y1="2091.90" x2="1886.00" y2="2091.90" stroke="#454852" stroke-opacity="0.75" stroke-width="1" stroke-dasharray="4 4"/>
<polyline points="593.70,1967.96 608.26,1934.80 622.82,1966.43 637.38,1942.45 651.94,1971.02 666.50,1939.90 681.06,1952.65 695.62,1945.51 710.18,1933.78 724.74,1961.84 739.30,1929.69 753.86,1967.96 768.42,1951.63 782.98,1946.53 797.54,1924.59 812.10,1936.33 826.66,1956.22 841.22,1969.49 855.78,1966.94 870.34,1959.29 884.90,1915.41 899.46,1926.12 914.03,1947.55 928.59,1946.53 943.15,1963.88 957.71,1948.57 972.27,1929.69 986.83,1923.06 1001.39,1940.41 1015.95,1956.73 1030.51,1977.14 1045.07,1963.88 1059.63,1932.24 1074.19,1945.51 1088.75,1936.33 1103.31,1936.33 1117.87,1973.06 1132.43,2042.96 1146.99,1924.59 1161.55,1984.80 1176.11,1932.24 1190.67,1937.35 1205.23,1923.06 1219.79,1973.06 1234.35,1977.14 1248.91,1970.00 1263.47,1989.90 1278.03,1937.86 1292.59,1943.47 1307.15,2003.67 1321.71,1996.53 1336.27,1993.47 1350.83,1976.12 1365.39,1989.39 1379.95,1926.12 1394.51,1986.33 1409.07,2012.86 1423.63,1931.22 1438.19,2018.98 1452.75,2011.33 1467.31,1951.63 1481.87,1968.98 1496.43,1980.71 1510.99,2009.80 1525.55,1960.82 1540.11,1999.59 1554.68,1999.59 1569.24,1978.67 1583.80,1946.53 1598.36,1984.80 1612.92,1981.22 1627.48,1939.90 1642.04,2007.76 1656.60,2102.14 1671.16,1932.24 1685.72,1941.43 1700.28,1996.53 1714.84,1953.16 1729.40,1942.96 1743.96,2014.90 1758.52,1939.90 1773.08,1931.22 1787.64,1963.88 1802.20,1915.41 1816.76,1927.14 1831.32,1969.49 1845.88,1931.73 1860.44,1947.55 1875.00,1963.37" fill="none" stroke="#6092c0" stroke-width="2" stroke-linejoin="round"/>
<line x1="593.70" y1="1879.20" x2="1875.00" y2="1879.20" stroke="#54b399" stroke-width="1.6"/>
<line x1="564.60" y1="2162.90" x2="1886.00" y2="2162.90" stroke="#363943" stroke-width="1"/>
<line x1="637.00" y1="1879.20" x2="637.00" y2="2174.00" stroke="#70747c" stroke-width="1.2"/>
<line x1="1073.80" y1="1879.20" x2="1073.80" y2="2174.00" stroke="#70747c" stroke-width="1.2"/>
<line x1="1510.70" y1="1879.20" x2="1510.70" y2="2174.00" stroke="#70747c" stroke-width="1.2"/>
<text x="566.60" y="2175.60" font-size="11.2" fill="#a0a5ae">08:54</text>
<line x1="637.00" y1="2162.90" x2="637.00" y2="2174.00" stroke="#363943" stroke-width="1"/>
<text x="639.00" y="2175.60" font-size="11.2" fill="#a0a5ae">08:55</text>
<line x1="724.37" y1="2162.90" x2="724.37" y2="2174.00" stroke="#363943" stroke-width="1"/>
<text x="726.37" y="2175.60" font-size="11.2" fill="#a0a5ae">08:56</text>
<line x1="811.74" y1="2162.90" x2="811.74" y2="2174.00" stroke="#363943" stroke-width="1"/>
<text x="813.74" y="2175.60" font-size="11.2" fill="#a0a5ae">08:57</text>
<line x1="899.11" y1="2162.90" x2="899.11" y2="2174.00" stroke="#363943" stroke-width="1"/>
<text x="901.11" y="2175.60" font-size="11.2" fill="#a0a5ae">08:58</text>
<line x1="986.48" y1="2162.90" x2="986.48" y2="2174.00" stroke="#363943" stroke-width="1"/>
<text x="988.48" y="2175.60" font-size="11.2" fill="#a0a5ae">08:59</text>
<line x1="1073.85" y1="2162.90" x2="1073.85" y2="2174.00" stroke="#363943" stroke-width="1"/>
<text x="1075.85" y="2175.60" font-size="11.2" fill="#a0a5ae">09:00</text>
<line x1="1161.22" y1="2162.90" x2="1161.22" y2="2174.00" stroke="#363943" stroke-width="1"/>
<text x="1163.22" y="2175.60" font-size="11.2" fill="#a0a5ae">09:01</text>
<line x1="1248.59" y1="2162.90" x2="1248.59" y2="2174.00" stroke="#363943" stroke-width="1"/>
<text x="1250.59" y="2175.60" font-size="11.2" fill="#a0a5ae">09:02</text>
<line x1="1335.96" y1="2162.90" x2="1335.96" y2="2174.00" stroke="#363943" stroke-width="1"/>
<text x="1337.96" y="2175.60" font-size="11.2" fill="#a0a5ae">09:03</text>
<line x1="1423.33" y1="2162.90" x2="1423.33" y2="2174.00" stroke="#363943" stroke-width="1"/>
<text x="1425.33" y="2175.60" font-size="11.2" fill="#a0a5ae">09:04</text>
<line x1="1510.70" y1="2162.90" x2="1510.70" y2="2174.00" stroke="#363943" stroke-width="1"/>
<text x="1512.70" y="2175.60" font-size="11.2" fill="#a0a5ae">09:05</text>
<line x1="1598.07" y1="2162.90" x2="1598.07" y2="2174.00" stroke="#363943" stroke-width="1"/>
<text x="1600.07" y="2175.60" font-size="11.2" fill="#a0a5ae">09:06</text>
<line x1="1685.44" y1="2162.90" x2="1685.44" y2="2174.00" stroke="#363943" stroke-width="1"/>
<text x="1687.44" y="2175.60" font-size="11.2" fill="#a0a5ae">09:07</text>
<line x1="1772.81" y1="2162.90" x2="1772.81" y2="2174.00" stroke="#363943" stroke-width="1"/>
<text x="1774.81" y="2175.60" font-size="11.2" fill="#a0a5ae">09:08</text>
<line x1="1860.20" y1="2162.90" x2="1860.20" y2="2174.00" stroke="#363943" stroke-width="1"/>
<text x="566.60" y="2186.40" font-size="11.2" fill="#a0a5ae">October 6, 2023</text>
<text x="1227.00" y="2209.00" font-size="12.85" font-weight="700" fill="#dfe5ef" text-anchor="middle">@timestamp per 10 seconds</text>
<circle cx="1912.80" cy="1886.80" r="4.3" fill="#54b399"/>
<text x="1925.00" y="1891.40" font-size="13.5" fill="#dfe5ef">Reads</text>
<circle cx="1912.80" cy="1909.80" r="4.3" fill="#6092c0"/>
<text x="1925.00" y="1914.40" font-size="13.5" fill="#dfe5ef">Writes</text>
<text x="1012.30" y="2342.00" font-size="12.75" font-weight="700" fill="#dfe5ef">Network traffic (packets)</text>
<text x="1052.00" y="2379.10" font-size="10.6" fill="#a0a5ae" text-anchor="end">2/s</text>
<text x="1052.00" y="2418.10" font-size="10.6" fill="#a0a5ae" text-anchor="end">1/s</text>
<text x="1052.00" y="2457.70" font-size="10.6" fill="#a0a5ae" text-anchor="end">0/s</text>
<text x="1052.00" y="2497.00" font-size="10.6" fill="#a0a5ae" text-anchor="end">-1/s</text>
<text x="1052.00" y="2536.20" font-size="10.6" fill="#a0a5ae" text-anchor="end">-2/s</text>
<text x="1052.00" y="2575.50" font-size="10.6" fill="#a0a5ae" text-anchor="end">-3/s</text>
<polygon points="1071.20,2453.90 1071.20,2410.51 1079.80,2402.09 1088.40,2406.43 1097.00,2418.67 1105.60,2390.61 1114.20,2402.09 1122.80,2411.02 1131.40,2398.27 1140.00,2410.51 1148.60,2410.51 1157.20,2398.27 1165.80,2402.86 1174.40,2398.27 1183.00,2411.02 1191.60,2406.43 1200.20,2402.09 1208.80,2402.09 1217.40,2406.43 1226.00,2411.02 1234.60,2398.27 1243.20,2414.34 1251.80,2398.27 1260.40,2402.09 1269.00,2410.51 1277.60,2410.51 1286.20,2398.27 1294.80,2406.43 1303.40,2398.27 1312.00,2414.34 1320.60,2402.09 1329.20,2406.43 1337.80,2394.44 1346.40,2390.61 1355.00,2418.67 1363.60,2386.28 1372.20,2410.51 1380.80,2414.34 1389.40,2394.44 1398.00,2406.43 1406.60,2410.51 1415.20,2390.61 1423.80,2406.43 1432.40,2406.43 1441.00,2398.27 1449.60,2406.43 1458.20,2414.34 1466.80,2402.09 1475.40,2410.51 1484.00,2406.43 1492.60,2398.27 1501.20,2418.67 1509.80,2402.09 1518.40,2402.09 1527.00,2414.34 1535.60,2406.43 1544.20,2394.44 1552.80,2414.34 1561.40,2390.61 1570.00,2414.34 1578.60,2406.43 1587.20,2410.51 1595.80,2394.44 1604.40,2394.44 1613.00,2418.67 1621.60,2398.27 1630.20,2410.51 1638.80,2406.43 1647.40,2398.27 1656.00,2406.43 1664.60,2418.67 1673.20,2394.44 1681.80,2410.51 1690.40,2398.27 1699.00,2402.09 1707.60,2402.09 1716.20,2410.51 1724.80,2398.27 1733.40,2414.34 1742.00,2406.43 1750.60,2398.27 1759.20,2414.34 1767.80,2406.43 1776.40,2402.09 1785.00,2410.51 1793.60,2406.43 1802.20,2394.44 1810.80,2418.67 1819.40,2398.27 1828.00,2402.09 1828.00,2453.90" fill="#2e4b47"/>
<polygon points="1071.20,2453.90 1071.20,2520.71 1079.80,2528.88 1088.40,2520.71 1097.00,2508.72 1105.60,2540.61 1114.20,2524.54 1122.80,2524.54 1131.40,2532.70 1140.00,2512.55 1148.60,2516.63 1157.20,2532.70 1165.80,2516.63 1174.40,2532.70 1183.00,2520.71 1191.60,2516.63 1200.20,2520.71 1208.80,2524.54 1217.40,2520.71 1226.00,2524.54 1234.60,2532.70 1243.20,2512.55 1251.80,2532.70 1260.40,2528.88 1269.00,2516.63 1277.60,2520.71 1286.20,2532.70 1294.80,2528.88 1303.40,2532.70 1312.00,2512.55 1320.60,2528.88 1329.20,2524.54 1337.80,2536.53 1346.40,2524.54 1355.00,2508.72 1363.60,2540.61 1372.20,2516.63 1380.80,2516.63 1389.40,2532.70 1398.00,2516.63 1406.60,2508.72 1415.20,2536.53 1423.80,2524.54 1432.40,2528.88 1441.00,2528.88 1449.60,2516.63 1458.20,2516.63 1466.80,2532.70 1475.40,2516.63 1484.00,2524.54 1492.60,2532.70 1501.20,2508.72 1509.80,2524.54 1518.40,2524.54 1527.00,2512.55 1535.60,2524.54 1544.20,2536.53 1552.80,2512.55 1561.40,2536.53 1570.00,2512.55 1578.60,2520.71 1587.20,2516.63 1595.80,2540.61 1604.40,2524.54 1613.00,2508.72 1621.60,2532.70 1630.20,2512.55 1638.80,2520.71 1647.40,2532.70 1656.00,2520.71 1664.60,2508.72 1673.20,2536.53 1681.80,2520.71 1690.40,2532.70 1699.00,2516.63 1707.60,2520.71 1716.20,2516.63 1724.80,2528.88 1733.40,2512.55 1742.00,2524.54 1750.60,2532.70 1759.20,2512.55 1767.80,2520.71 1776.40,2528.88 1785.00,2516.63 1793.60,2524.54 1802.20,2532.70 1810.80,2508.72 1819.40,2532.70 1828.00,2516.63 1828.00,2453.90" fill="#314153"/>
<line x1="1062.30" y1="2375.30" x2="1834.70" y2="2375.30" stroke="#454852" stroke-opacity="0.75" stroke-width="1" stroke-dasharray="4 4"/>
<line x1="1062.30" y1="2414.30" x2="1834.70" y2="2414.30" stroke="#454852" stroke-opacity="0.75" stroke-width="1" stroke-dasharray="4 4"/>
<line x1="1062.30" y1="2453.90" x2="1834.70" y2="2453.90" stroke="#454852" stroke-opacity="0.75" stroke-width="1" stroke-dasharray="4 4"/>
<line x1="1062.30" y1="2493.20" x2="1834.70" y2="2493.20" stroke="#454852" stroke-opacity="0.75" stroke-width="1" stroke-dasharray="4 4"/>
<line x1="1062.30" y1="2532.40" x2="1834.70" y2="2532.40" stroke="#454852" stroke-opacity="0.75" stroke-width="1" stroke-dasharray="4 4"/>
<polyline points="1071.20,2410.51 1079.80,2402.09 1088.40,2406.43 1097.00,2418.67 1105.60,2390.61 1114.20,2402.09 1122.80,2411.02 1131.40,2398.27 1140.00,2410.51 1148.60,2410.51 1157.20,2398.27 1165.80,2402.86 1174.40,2398.27 1183.00,2411.02 1191.60,2406.43 1200.20,2402.09 1208.80,2402.09 1217.40,2406.43 1226.00,2411.02 1234.60,2398.27 1243.20,2414.34 1251.80,2398.27 1260.40,2402.09 1269.00,2410.51 1277.60,2410.51 1286.20,2398.27 1294.80,2406.43 1303.40,2398.27 1312.00,2414.34 1320.60,2402.09 1329.20,2406.43 1337.80,2394.44 1346.40,2390.61 1355.00,2418.67 1363.60,2386.28 1372.20,2410.51 1380.80,2414.34 1389.40,2394.44 1398.00,2406.43 1406.60,2410.51 1415.20,2390.61 1423.80,2406.43 1432.40,2406.43 1441.00,2398.27 1449.60,2406.43 1458.20,2414.34 1466.80,2402.09 1475.40,2410.51 1484.00,2406.43 1492.60,2398.27 1501.20,2418.67 1509.80,2402.09 1518.40,2402.09 1527.00,2414.34 1535.60,2406.43 1544.20,2394.44 1552.80,2414.34 1561.40,2390.61 1570.00,2414.34 1578.60,2406.43 1587.20,2410.51 1595.80,2394.44 1604.40,2394.44 1613.00,2418.67 1621.60,2398.27 1630.20,2410.51 1638.80,2406.43 1647.40,2398.27 1656.00,2406.43 1664.60,2418.67 1673.20,2394.44 1681.80,2410.51 1690.40,2398.27 1699.00,2402.09 1707.60,2402.09 1716.20,2410.51 1724.80,2398.27 1733.40,2414.34 1742.00,2406.43 1750.60,2398.27 1759.20,2414.34 1767.80,2406.43 1776.40,2402.09 1785.00,2410.51 1793.60,2406.43 1802.20,2394.44 1810.80,2418.67 1819.40,2398.27 1828.00,2402.09" fill="none" stroke="#54b399" stroke-width="2" stroke-linejoin="round"/>
<polyline points="1071.20,2520.71 1079.80,2528.88 1088.40,2520.71 1097.00,2508.72 1105.60,2540.61 1114.20,2524.54 1122.80,2524.54 1131.40,2532.70 1140.00,2512.55 1148.60,2516.63 1157.20,2532.70 1165.80,2516.63 1174.40,2532.70 1183.00,2520.71 1191.60,2516.63 1200.20,2520.71 1208.80,2524.54 1217.40,2520.71 1226.00,2524.54 1234.60,2532.70 1243.20,2512.55 1251.80,2532.70 1260.40,2528.88 1269.00,2516.63 1277.60,2520.71 1286.20,2532.70 1294.80,2528.88 1303.40,2532.70 1312.00,2512.55 1320.60,2528.88 1329.20,2524.54 1337.80,2536.53 1346.40,2524.54 1355.00,2508.72 1363.60,2540.61 1372.20,2516.63 1380.80,2516.63 1389.40,2532.70 1398.00,2516.63 1406.60,2508.72 1415.20,2536.53 1423.80,2524.54 1432.40,2528.88 1441.00,2528.88 1449.60,2516.63 1458.20,2516.63 1466.80,2532.70 1475.40,2516.63 1484.00,2524.54 1492.60,2532.70 1501.20,2508.72 1509.80,2524.54 1518.40,2524.54 1527.00,2512.55 1535.60,2524.54 1544.20,2536.53 1552.80,2512.55 1561.40,2536.53 1570.00,2512.55 1578.60,2520.71 1587.20,2516.63 1595.80,2540.61 1604.40,2524.54 1613.00,2508.72 1621.60,2532.70 1630.20,2512.55 1638.80,2520.71 1647.40,2532.70 1656.00,2520.71 1664.60,2508.72 1673.20,2536.53 1681.80,2520.71 1690.40,2532.70 1699.00,2516.63 1707.60,2520.71 1716.20,2516.63 1724.80,2528.88 1733.40,2512.55 1742.00,2524.54 1750.60,2532.70 1759.20,2512.55 1767.80,2520.71 1776.40,2528.88 1785.00,2516.63 1793.60,2524.54 1802.20,2532.70 1810.80,2508.72 1819.40,2532.70 1828.00,2516.63" fill="none" stroke="#6092c0" stroke-width="2" stroke-linejoin="round"/>
<line x1="1062.30" y1="2374.00" x2="1062.30" y2="2571.70" stroke="#363943" stroke-width="1"/>
<line x1="1062.30" y1="2571.70" x2="1834.70" y2="2571.70" stroke="#363943" stroke-width="1"/>
<line x1="1097.00" y1="2374.00" x2="1097.00" y2="2583.00" stroke="#70747c" stroke-width="1.2"/>
<line x1="1355.30" y1="2374.00" x2="1355.30" y2="2583.00" stroke="#70747c" stroke-width="1.2"/>
<line x1="1613.60" y1="2374.00" x2="1613.60" y2="2583.00" stroke="#70747c" stroke-width="1.2"/>
<text x="1064.30" y="2583.50" font-size="11.2" fill="#a0a5ae">08:54</text>
<line x1="1097.00" y1="2571.70" x2="1097.00" y2="2583.00" stroke="#363943" stroke-width="1"/>
<text x="1099.00" y="2583.50" font-size="11.2" fill="#a0a5ae">08:55</text>
<line x1="1148.66" y1="2571.70" x2="1148.66" y2="2583.00" stroke="#363943" stroke-width="1"/>
<text x="1150.66" y="2583.50" font-size="11.2" fill="#a0a5ae">08:56</text>
<line x1="1200.32" y1="2571.70" x2="1200.32" y2="2583.00" stroke="#363943" stroke-width="1"/>
<text x="1202.32" y="2583.50" font-size="11.2" fill="#a0a5ae">08:57</text>
<line x1="1251.98" y1="2571.70" x2="1251.98" y2="2583.00" stroke="#363943" stroke-width="1"/>
<text x="1253.98" y="2583.50" font-size="11.2" fill="#a0a5ae">08:58</text>
<line x1="1303.64" y1="2571.70" x2="1303.64" y2="2583.00" stroke="#363943" stroke-width="1"/>
<text x="1305.64" y="2583.50" font-size="11.2" fill="#a0a5ae">08:59</text>
<line x1="1355.30" y1="2571.70" x2="1355.30" y2="2583.00" stroke="#363943" stroke-width="1"/>
<text x="1357.30" y="2583.50" font-size="11.2" fill="#a0a5ae">09:00</text>
<line x1="1406.96" y1="2571.70" x2="1406.96" y2="2583.00" stroke="#363943" stroke-width="1"/>
<text x="1408.96" y="2583.50" font-size="11.2" fill="#a0a5ae">09:01</text>
<line x1="1458.62" y1="2571.70" x2="1458.62" y2="2583.00" stroke="#363943" stroke-width="1"/>
<text x="1460.62" y="2583.50" font-size="11.2" fill="#a0a5ae">09:02</text>
<line x1="1510.28" y1="2571.70" x2="1510.28" y2="2583.00" stroke="#363943" stroke-width="1"/>
<text x="1512.28" y="2583.50" font-size="11.2" fill="#a0a5ae">09:03</text>
<line x1="1561.94" y1="2571.70" x2="1561.94" y2="2583.00" stroke="#363943" stroke-width="1"/>
<text x="1563.94" y="2583.50" font-size="11.2" fill="#a0a5ae">09:04</text>
<line x1="1613.60" y1="2571.70" x2="1613.60" y2="2583.00" stroke="#363943" stroke-width="1"/>
<text x="1615.60" y="2583.50" font-size="11.2" fill="#a0a5ae">09:05</text>
<line x1="1665.26" y1="2571.70" x2="1665.26" y2="2583.00" stroke="#363943" stroke-width="1"/>
<text x="1667.26" y="2583.50" font-size="11.2" fill="#a0a5ae">09:06</text>
<line x1="1716.92" y1="2571.70" x2="1716.92" y2="2583.00" stroke="#363943" stroke-width="1"/>
<text x="1718.92" y="2583.50" font-size="11.2" fill="#a0a5ae">09:07</text>
<line x1="1768.58" y1="2571.70" x2="1768.58" y2="2583.00" stroke="#363943" stroke-width="1"/>
<text x="1770.58" y="2583.50" font-size="11.2" fill="#a0a5ae">09:08</text>
<line x1="1820.24" y1="2571.70" x2="1820.24" y2="2583.00" stroke="#363943" stroke-width="1"/>
<text x="1064.30" y="2594.30" font-size="11.2" fill="#a0a5ae">October 6, 2023</text>
<text x="1450.00" y="2616.40" font-size="12.85" font-weight="700" fill="#dfe5ef" text-anchor="middle">@timestamp per 10 seconds</text>
<circle cx="1860.40" cy="2382.40" r="4.3" fill="#54b399"/>
<text x="1873.00" y="2387.00" font-size="13.5" fill="#dfe5ef">Inbound</text>
<circle cx="1860.40" cy="2405.50" r="4.3" fill="#6092c0"/>
<text x="1873.00" y="2410.10" font-size="13.5" fill="#dfe5ef">Outbound</text>
<text x="1012.30" y="2663.30" font-size="12.75" font-weight="700" fill="#dfe5ef">Network traffic (bytes)</text>
<text x="1058.00" y="2699.60" font-size="10.6" fill="#a0a5ae" text-anchor="end">1k/s</text>
<text x="1058.00" y="2727.70" font-size="10.6" fill="#a0a5ae" text-anchor="end">0/s</text>
<text x="1058.00" y="2756.00" font-size="10.6" fill="#a0a5ae" text-anchor="end">-1k/s</text>
<text x="1058.00" y="2784.10" font-size="10.6" fill="#a0a5ae" text-anchor="end">-2k/s</text>
<text x="1058.00" y="2811.80" font-size="10.6" fill="#a0a5ae" text-anchor="end">-3k/s</text>
<text x="1058.00" y="2839.90" font-size="10.6" fill="#a0a5ae" text-anchor="end">-4k/s</text>
<text x="1058.00" y="2868.00" font-size="10.6" fill="#a0a5ae" text-anchor="end">-5k/s</text>
<text x="1058.00" y="2896.00" font-size="10.6" fill="#a0a5ae" text-anchor="end">-6k/s</text>
<polygon points="1077.30,2723.90 1077.30,2701.94 1085.83,2698.62 1094.36,2701.94 1102.89,2702.45 1111.42,2699.39 1119.95,2701.94 1128.48,2701.94 1137.01,2698.62 1145.54,2702.45 1154.07,2702.45 1162.60,2699.90 1171.13,2702.45 1179.66,2699.13 1188.19,2699.90 1196.72,2702.96 1205.25,2701.94 1213.78,2699.90 1222.31,2701.94 1230.84,2701.94 1239.37,2698.37 1247.90,2702.96 1256.43,2701.94 1264.96,2699.90 1273.49,2703.47 1282.02,2700.92 1290.55,2698.37 1299.08,2703.47 1307.61,2699.13 1316.14,2702.45 1324.67,2701.94 1333.20,2701.94 1341.73,2698.37 1350.26,2701.94 1358.79,2702.96 1367.32,2699.90 1375.85,2702.45 1384.38,2702.45 1392.91,2698.37 1401.44,2702.45 1409.97,2702.45 1418.50,2699.90 1427.03,2702.45 1435.56,2699.90 1444.09,2699.90 1452.62,2701.94 1461.15,2701.94 1469.68,2699.39 1478.21,2701.94 1486.74,2701.94 1495.27,2698.37 1503.80,2702.96 1512.33,2701.94 1520.86,2699.39 1529.39,2702.45 1537.92,2701.94 1546.45,2698.37 1554.98,2702.96 1563.51,2698.37 1572.04,2702.45 1580.57,2702.45 1589.10,2701.94 1597.63,2698.37 1606.16,2701.94 1614.69,2702.45 1623.22,2699.39 1631.75,2702.45 1640.28,2701.94 1648.81,2698.37 1657.34,2702.45 1665.87,2701.94 1674.40,2699.39 1682.93,2702.45 1691.46,2699.39 1699.99,2700.92 1708.52,2701.94 1717.05,2701.94 1725.58,2700.41 1734.11,2702.45 1742.64,2701.94 1751.17,2698.37 1759.70,2703.47 1768.23,2701.94 1776.76,2699.90 1785.29,2702.45 1793.82,2701.94 1802.35,2697.35 1810.88,2702.96 1819.41,2699.90 1827.94,2702.45 1827.94,2723.90" fill="#2e4b47"/>
<polygon points="1077.30,2723.90 1077.30,2861.63 1085.83,2881.53 1094.36,2858.57 1102.89,2857.81 1111.42,2874.39 1119.95,2858.57 1128.48,2861.89 1137.01,2881.53 1145.54,2857.81 1154.07,2858.06 1162.60,2874.39 1171.13,2858.57 1179.66,2876.94 1188.19,2870.05 1196.72,2852.96 1205.25,2858.57 1213.78,2874.39 1222.31,2858.57 1230.84,2861.89 1239.37,2881.53 1247.90,2857.81 1256.43,2859.08 1264.96,2874.39 1273.49,2853.47 1282.02,2867.50 1290.55,2881.53 1299.08,2854.23 1307.61,2874.39 1316.14,2866.22 1324.67,2863.67 1333.20,2861.89 1341.73,2884.59 1350.26,2858.57 1358.79,2857.81 1367.32,2874.39 1375.85,2858.57 1384.38,2861.89 1392.91,2881.53 1401.44,2857.81 1409.97,2857.81 1418.50,2874.39 1427.03,2858.57 1435.56,2876.94 1444.09,2867.50 1452.62,2858.57 1461.15,2857.81 1469.68,2874.39 1478.21,2857.81 1486.74,2861.89 1495.27,2881.53 1503.80,2857.81 1512.33,2858.57 1520.86,2874.39 1529.39,2857.81 1537.92,2861.89 1546.45,2881.53 1554.98,2857.81 1563.51,2874.39 1572.04,2865.71 1580.57,2857.81 1589.10,2861.89 1597.63,2881.53 1606.16,2858.57 1614.69,2857.81 1623.22,2874.39 1631.75,2857.81 1640.28,2861.89 1648.81,2881.53 1657.34,2857.81 1665.87,2862.65 1674.40,2874.39 1682.93,2860.61 1691.46,2876.94 1699.99,2860.61 1708.52,2858.06 1717.05,2857.81 1725.58,2868.78 1734.11,2857.81 1742.64,2861.89 1751.17,2881.53 1759.70,2852.96 1768.23,2858.57 1776.76,2874.39 1785.29,2857.81 1793.82,2861.89 1802.35,2889.69 1810.88,2857.81 1819.41,2874.39 1827.94,2854.23 1827.94,2723.90" fill="#314153"/>
<line x1="1068.70" y1="2695.80" x2="1834.70" y2="2695.80" stroke="#454852" stroke-opacity="0.75" stroke-width="1" stroke-dasharray="4 4"/>
<line x1="1068.70" y1="2723.90" x2="1834.70" y2="2723.90" stroke="#454852" stroke-opacity="0.75" stroke-width="1" stroke-dasharray="4 4"/>
<line x1="1068.70" y1="2752.20" x2="1834.70" y2="2752.20" stroke="#454852" stroke-opacity="0.75" stroke-width="1" stroke-dasharray="4 4"/>
<line x1="1068.70" y1="2780.30" x2="1834.70" y2="2780.30" stroke="#454852" stroke-opacity="0.75" stroke-width="1" stroke-dasharray="4 4"/>
<line x1="1068.70" y1="2808.00" x2="1834.70" y2="2808.00" stroke="#454852" stroke-opacity="0.75" stroke-width="1" stroke-dasharray="4 4"/>
<line x1="1068.70" y1="2836.10" x2="1834.70" y2="2836.10" stroke="#454852" stroke-opacity="0.75" stroke-width="1" stroke-dasharray="4 4"/>
<line x1="1068.70" y1="2864.20" x2="1834.70" y2="2864.20" stroke="#454852" stroke-opacity="0.75" stroke-width="1" stroke-dasharray="4 4"/>
<polyline points="1077.30,2701.94 1085.83,2698.62 1094.36,2701.94 1102.89,2702.45 1111.42,2699.39 1119.95,2701.94 1128.48,2701.94 1137.01,2698.62 1145.54,2702.45 1154.07,2702.45 1162.60,2699.90 1171.13,2702.45 1179.66,2699.13 1188.19,2699.90 1196.72,2702.96 1205.25,2701.94 1213.78,2699.90 1222.31,2701.94 1230.84,2701.94 1239.37,2698.37 1247.90,2702.96 1256.43,2701.94 1264.96,2699.90 1273.49,2703.47 1282.02,2700.92 1290.55,2698.37 1299.08,2703.47 1307.61,2699.13 1316.14,2702.45 1324.67,2701.94 1333.20,2701.94 1341.73,2698.37 1350.26,2701.94 1358.79,2702.96 1367.32,2699.90 1375.85,2702.45 1384.38,2702.45 1392.91,2698.37 1401.44,2702.45 1409.97,2702.45 1418.50,2699.90 1427.03,2702.45 1435.56,2699.90 1444.09,2699.90 1452.62,2701.94 1461.15,2701.94 1469.68,2699.39 1478.21,2701.94 1486.74,2701.94 1495.27,2698.37 1503.80,2702.96 1512.33,2701.94 1520.86,2699.39 1529.39,2702.45 1537.92,2701.94 1546.45,2698.37 1554.98,2702.96 1563.51,2698.37 1572.04,2702.45 1580.57,2702.45 1589.10,2701.94 1597.63,2698.37 1606.16,2701.94 1614.69,2702.45 1623.22,2699.39 1631.75,2702.45 1640.28,2701.94 1648.81,2698.37 1657.34,2702.45 1665.87,2701.94 1674.40,2699.39 1682.93,2702.45 1691.46,2699.39 1699.99,2700.92 1708.52,2701.94 1717.05,2701.94 1725.58,2700.41 1734.11,2702.45 1742.64,2701.94 1751.17,2698.37 1759.70,2703.47 1768.23,2701.94 1776.76,2699.90 1785.29,2702.45 1793.82,2701.94 1802.35,2697.35 1810.88,2702.96 1819.41,2699.90 1827.94,2702.45" fill="none" stroke="#54b399" stroke-width="2" stroke-linejoin="round"/>
<polyline points="1077.30,2861.63 1085.83,2881.53 1094.36,2858.57 1102.89,2857.81 1111.42,2874.39 1119.95,2858.57 1128.48,2861.89 1137.01,2881.53 1145.54,2857.81 1154.07,2858.06 1162.60,2874.39 1171.13,2858.57 1179.66,2876.94 1188.19,2870.05 1196.72,2852.96 1205.25,2858.57 1213.78,2874.39 1222.31,2858.57 1230.84,2861.89 1239.37,2881.53 1247.90,2857.81 1256.43,2859.08 1264.96,2874.39 1273.49,2853.47 1282.02,2867.50 1290.55,2881.53 1299.08,2854.23 1307.61,2874.39 1316.14,2866.22 1324.67,2863.67 1333.20,2861.89 1341.73,2884.59 1350.26,2858.57 1358.79,2857.81 1367.32,2874.39 1375.85,2858.57 1384.38,2861.89 1392.91,2881.53 1401.44,2857.81 1409.97,2857.81 1418.50,2874.39 1427.03,2858.57 1435.56,2876.94 1444.09,2867.50 1452.62,2858.57 1461.15,2857.81 1469.68,2874.39 1478.21,2857.81 1486.74,2861.89 1495.27,2881.53 1503.80,2857.81 1512.33,2858.57 1520.86,2874.39 1529.39,2857.81 1537.92,2861.89 1546.45,2881.53 1554.98,2857.81 1563.51,2874.39 1572.04,2865.71 1580.57,2857.81 1589.10,2861.89 1597.63,2881.53 1606.16,2858.57 1614.69,2857.81 1623.22,2874.39 1631.75,2857.81 1640.28,2861.89 1648.81,2881.53 1657.34,2857.81 1665.87,2862.65 1674.40,2874.39 1682.93,2860.61 1691.46,2876.94 1699.99,2860.61 1708.52,2858.06 1717.05,2857.81 1725.58,2868.78 1734.11,2857.81 1742.64,2861.89 1751.17,2881.53 1759.70,2852.96 1768.23,2858.57 1776.76,2874.39 1785.29,2857.81 1793.82,2861.89 1802.35,2889.69 1810.88,2857.81 1819.41,2874.39 1827.94,2854.23" fill="none" stroke="#6092c0" stroke-width="2" stroke-linejoin="round"/>
<line x1="1068.70" y1="2694.00" x2="1068.70" y2="2892.20" stroke="#363943" stroke-width="1"/>
<line x1="1068.70" y1="2892.20" x2="1834.70" y2="2892.20" stroke="#363943" stroke-width="1"/>
<line x1="1102.70" y1="2694.00" x2="1102.70" y2="2904.00" stroke="#70747c" stroke-width="1.2"/>
<line x1="1359.10" y1="2694.00" x2="1359.10" y2="2904.00" stroke="#70747c" stroke-width="1.2"/>
<line x1="1614.90" y1="2694.00" x2="1614.90" y2="2904.00" stroke="#70747c" stroke-width="1.2"/>
<text x="1070.50" y="2904.50" font-size="11.2" fill="#a0a5ae">08:54</text>
<line x1="1102.70" y1="2892.20" x2="1102.70" y2="2904.00" stroke="#363943" stroke-width="1"/>
<text x="1104.70" y="2904.50" font-size="11.2" fill="#a0a5ae">08:55</text>
<line x1="1153.95" y1="2892.20" x2="1153.95" y2="2904.00" stroke="#363943" stroke-width="1"/>
<text x="1155.95" y="2904.50" font-size="11.2" fill="#a0a5ae">08:56</text>
<line x1="1205.20" y1="2892.20" x2="1205.20" y2="2904.00" stroke="#363943" stroke-width="1"/>
<text x="1207.20" y="2904.50" font-size="11.2" fill="#a0a5ae">08:57</text>
<line x1="1256.45" y1="2892.20" x2="1256.45" y2="2904.00" stroke="#363943" stroke-width="1"/>
<text x="1258.45" y="2904.50" font-size="11.2" fill="#a0a5ae">08:58</text>
<line x1="1307.70" y1="2892.20" x2="1307.70" y2="2904.00" stroke="#363943" stroke-width="1"/>
<text x="1309.70" y="2904.50" font-size="11.2" fill="#a0a5ae">08:59</text>
<line x1="1358.95" y1="2892.20" x2="1358.95" y2="2904.00" stroke="#363943" stroke-width="1"/>
<text x="1360.95" y="2904.50" font-size="11.2" fill="#a0a5ae">09:00</text>
<line x1="1410.20" y1="2892.20" x2="1410.20" y2="2904.00" stroke="#363943" stroke-width="1"/>
<text x="1412.20" y="2904.50" font-size="11.2" fill="#a0a5ae">09:01</text>
<line x1="1461.45" y1="2892.20" x2="1461.45" y2="2904.00" stroke="#363943" stroke-width="1"/>
<text x="1463.45" y="2904.50" font-size="11.2" fill="#a0a5ae">09:02</text>
<line x1="1512.70" y1="2892.20" x2="1512.70" y2="2904.00" stroke="#363943" stroke-width="1"/>
<text x="1514.70" y="2904.50" font-size="11.2" fill="#a0a5ae">09:03</text>
<line x1="1563.95" y1="2892.20" x2="1563.95" y2="2904.00" stroke="#363943" stroke-width="1"/>
<text x="1565.95" y="2904.50" font-size="11.2" fill="#a0a5ae">09:04</text>
<line x1="1615.20" y1="2892.20" x2="1615.20" y2="2904.00" stroke="#363943" stroke-width="1"/>
<text x="1617.20" y="2904.50" font-size="11.2" fill="#a0a5ae">09:05</text>
<line x1="1666.45" y1="2892.20" x2="1666.45" y2="2904.00" stroke="#363943" stroke-width="1"/>
<text x="1668.45" y="2904.50" font-size="11.2" fill="#a0a5ae">09:06</text>
<line x1="1717.70" y1="2892.20" x2="1717.70" y2="2904.00" stroke="#363943" stroke-width="1"/>
<text x="1719.70" y="2904.50" font-size="11.2" fill="#a0a5ae">09:07</text>
<line x1="1768.95" y1="2892.20" x2="1768.95" y2="2904.00" stroke="#363943" stroke-width="1"/>
<text x="1770.95" y="2904.50" font-size="11.2" fill="#a0a5ae">09:08</text>
<line x1="1820.20" y1="2892.20" x2="1820.20" y2="2904.00" stroke="#363943" stroke-width="1"/>
<text x="1070.50" y="2915.30" font-size="11.2" fill="#a0a5ae">October 6, 2023</text>
<text x="1453.30" y="2937.70" font-size="12.85" font-weight="700" fill="#dfe5ef" text-anchor="middle">@timestamp per 10 seconds</text>
<circle cx="1860.40" cy="2703.00" r="4.3" fill="#54b399"/>
<text x="1873.00" y="2707.60" font-size="13.5" fill="#dfe5ef">Inbound</text>
<circle cx="1860.40" cy="2726.10" r="4.3" fill="#6092c0"/>
<text x="1873.00" y="2730.70" font-size="13.5" fill="#dfe5ef">Outbound</text>
</svg></body></html>
